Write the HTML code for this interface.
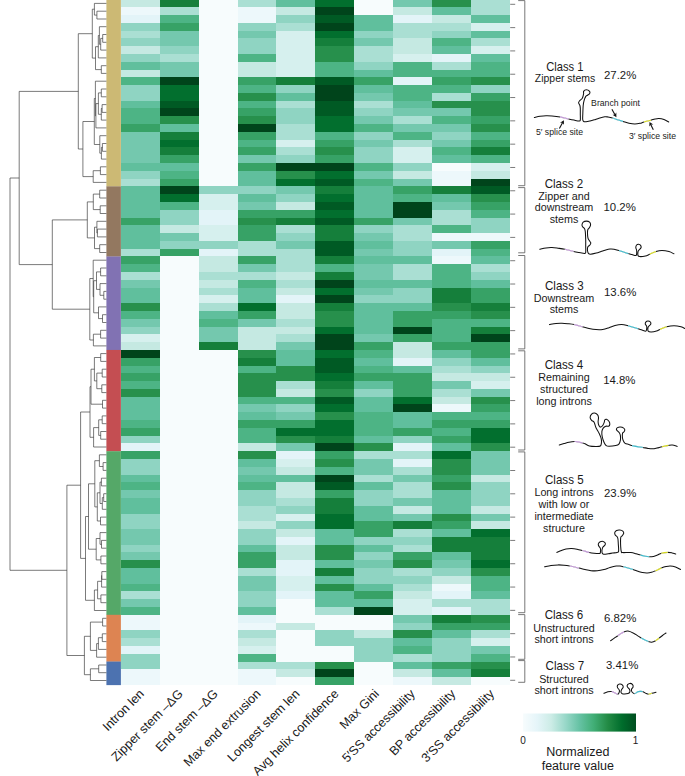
<!DOCTYPE html><html><head><meta charset="utf-8"><style>html,body{margin:0;padding:0;background:#fff}svg{display:block}text{font-family:"Liberation Sans",sans-serif;fill:#1a1a1a}</style></head><body>
<svg width="685" height="776" viewBox="0 0 685 776">
<rect width="685" height="776" fill="#fff"/>
<defs><linearGradient id="g" x1="0" x2="1" y1="0" y2="0"><stop offset="0" stop-color="#f7fcfd"/><stop offset="0.125" stop-color="#e5f5f9"/><stop offset="0.25" stop-color="#ccece6"/><stop offset="0.375" stop-color="#99d8c9"/><stop offset="0.5" stop-color="#66c2a4"/><stop offset="0.625" stop-color="#41ae76"/><stop offset="0.75" stop-color="#238b45"/><stop offset="0.875" stop-color="#006d2c"/><stop offset="1" stop-color="#004e20"/></linearGradient></defs>
<g shape-rendering="crispEdges">
<rect x="120.80" y="-0.60" width="39.22" height="8.09" fill="#c5e9e2"/>
<rect x="120.80" y="7.19" width="39.22" height="8.09" fill="#edf8fb"/>
<rect x="120.80" y="14.98" width="39.22" height="8.09" fill="#e3f4f8"/>
<rect x="120.80" y="22.77" width="39.22" height="8.09" fill="#8fd4c2"/>
<rect x="120.80" y="30.56" width="39.22" height="8.09" fill="#aadfd3"/>
<rect x="120.80" y="38.35" width="39.22" height="8.09" fill="#8fd4c2"/>
<rect x="120.80" y="46.14" width="39.22" height="8.09" fill="#c5e9e2"/>
<rect x="120.80" y="53.93" width="39.22" height="8.09" fill="#8fd4c2"/>
<rect x="120.80" y="61.72" width="39.22" height="8.09" fill="#60bf9d"/>
<rect x="120.80" y="69.51" width="39.22" height="8.09" fill="#c5e9e2"/>
<rect x="120.80" y="77.30" width="39.22" height="8.09" fill="#4db485"/>
<rect x="120.80" y="85.09" width="39.22" height="15.88" fill="#8fd4c2"/>
<rect x="120.80" y="100.67" width="39.22" height="8.09" fill="#60bf9d"/>
<rect x="120.80" y="108.46" width="39.22" height="15.88" fill="#4db485"/>
<rect x="120.80" y="124.04" width="39.22" height="8.09" fill="#37a266"/>
<rect x="120.80" y="131.83" width="39.22" height="31.46" fill="#74c8ae"/>
<rect x="120.80" y="162.99" width="39.22" height="8.09" fill="#60bf9d"/>
<rect x="120.80" y="170.78" width="39.22" height="8.09" fill="#8fd4c2"/>
<rect x="120.80" y="178.57" width="39.22" height="8.09" fill="#aadfd3"/>
<rect x="120.80" y="186.36" width="39.22" height="31.46" fill="#60bf9d"/>
<rect x="120.80" y="217.52" width="39.22" height="8.09" fill="#37a266"/>
<rect x="120.80" y="225.31" width="39.22" height="23.67" fill="#60bf9d"/>
<rect x="120.80" y="248.68" width="39.22" height="8.09" fill="#aadfd3"/>
<rect x="120.80" y="256.47" width="39.22" height="8.09" fill="#37a266"/>
<rect x="120.80" y="264.26" width="39.22" height="8.09" fill="#4db485"/>
<rect x="120.80" y="272.05" width="39.22" height="8.09" fill="#aadfd3"/>
<rect x="120.80" y="279.84" width="39.22" height="8.09" fill="#74c8ae"/>
<rect x="120.80" y="287.63" width="39.22" height="15.88" fill="#60bf9d"/>
<rect x="120.80" y="303.21" width="39.22" height="8.09" fill="#27904c"/>
<rect x="120.80" y="311.00" width="39.22" height="8.09" fill="#4db485"/>
<rect x="120.80" y="318.79" width="39.22" height="8.09" fill="#74c8ae"/>
<rect x="120.80" y="326.58" width="39.22" height="8.09" fill="#8fd4c2"/>
<rect x="120.80" y="334.37" width="39.22" height="8.09" fill="#d6f0ee"/>
<rect x="120.80" y="342.16" width="39.22" height="8.09" fill="#c5e9e2"/>
<rect x="120.80" y="349.95" width="39.22" height="8.09" fill="#00441b"/>
<rect x="120.80" y="357.74" width="39.22" height="8.09" fill="#37a266"/>
<rect x="120.80" y="365.53" width="39.22" height="8.09" fill="#4db485"/>
<rect x="120.80" y="373.32" width="39.22" height="8.09" fill="#37a266"/>
<rect x="120.80" y="381.11" width="39.22" height="8.09" fill="#4db485"/>
<rect x="120.80" y="388.90" width="39.22" height="8.09" fill="#27904c"/>
<rect x="120.80" y="396.69" width="39.22" height="23.67" fill="#60bf9d"/>
<rect x="120.80" y="420.06" width="39.22" height="8.09" fill="#4db485"/>
<rect x="120.80" y="427.85" width="39.22" height="8.09" fill="#37a266"/>
<rect x="120.80" y="435.64" width="39.22" height="8.09" fill="#8fd4c2"/>
<rect x="120.80" y="443.43" width="39.22" height="8.09" fill="#e3f4f8"/>
<rect x="120.80" y="451.22" width="39.22" height="8.09" fill="#37a266"/>
<rect x="120.80" y="459.01" width="39.22" height="15.88" fill="#8fd4c2"/>
<rect x="120.80" y="474.59" width="39.22" height="8.09" fill="#60bf9d"/>
<rect x="120.80" y="482.38" width="39.22" height="8.09" fill="#4db485"/>
<rect x="120.80" y="490.17" width="39.22" height="8.09" fill="#74c8ae"/>
<rect x="120.80" y="497.96" width="39.22" height="15.88" fill="#60bf9d"/>
<rect x="120.80" y="513.54" width="39.22" height="15.88" fill="#8fd4c2"/>
<rect x="120.80" y="529.12" width="39.22" height="15.88" fill="#74c8ae"/>
<rect x="120.80" y="544.70" width="39.22" height="8.09" fill="#8fd4c2"/>
<rect x="120.80" y="552.49" width="39.22" height="8.09" fill="#74c8ae"/>
<rect x="120.80" y="560.28" width="39.22" height="8.09" fill="#27904c"/>
<rect x="120.80" y="568.07" width="39.22" height="15.88" fill="#60bf9d"/>
<rect x="120.80" y="583.65" width="39.22" height="8.09" fill="#4db485"/>
<rect x="120.80" y="591.44" width="39.22" height="8.09" fill="#aadfd3"/>
<rect x="120.80" y="599.23" width="39.22" height="8.09" fill="#74c8ae"/>
<rect x="120.80" y="607.02" width="39.22" height="8.09" fill="#4db485"/>
<rect x="120.80" y="614.81" width="39.22" height="15.88" fill="#edf8fb"/>
<rect x="120.80" y="630.39" width="39.22" height="8.09" fill="#8fd4c2"/>
<rect x="120.80" y="638.18" width="39.22" height="8.09" fill="#aadfd3"/>
<rect x="120.80" y="645.97" width="39.22" height="8.09" fill="#e3f4f8"/>
<rect x="120.80" y="653.76" width="39.22" height="15.88" fill="#8fd4c2"/>
<rect x="120.80" y="669.34" width="39.22" height="15.88" fill="#edf8fb"/>
<rect x="159.72" y="-0.60" width="39.22" height="8.09" fill="#157f3b"/>
<rect x="159.72" y="7.19" width="39.22" height="8.09" fill="#aadfd3"/>
<rect x="159.72" y="14.98" width="39.22" height="8.09" fill="#4db485"/>
<rect x="159.72" y="22.77" width="39.22" height="8.09" fill="#37a266"/>
<rect x="159.72" y="30.56" width="39.22" height="15.88" fill="#74c8ae"/>
<rect x="159.72" y="46.14" width="39.22" height="8.09" fill="#8fd4c2"/>
<rect x="159.72" y="53.93" width="39.22" height="8.09" fill="#aadfd3"/>
<rect x="159.72" y="61.72" width="39.22" height="15.88" fill="#74c8ae"/>
<rect x="159.72" y="77.30" width="39.22" height="8.09" fill="#00441b"/>
<rect x="159.72" y="85.09" width="39.22" height="15.88" fill="#026f2e"/>
<rect x="159.72" y="100.67" width="39.22" height="8.09" fill="#005a24"/>
<rect x="159.72" y="108.46" width="39.22" height="8.09" fill="#00441b"/>
<rect x="159.72" y="116.25" width="39.22" height="8.09" fill="#27904c"/>
<rect x="159.72" y="124.04" width="39.22" height="8.09" fill="#60bf9d"/>
<rect x="159.72" y="131.83" width="39.22" height="8.09" fill="#157f3b"/>
<rect x="159.72" y="139.62" width="39.22" height="8.09" fill="#026f2e"/>
<rect x="159.72" y="147.41" width="39.22" height="8.09" fill="#157f3b"/>
<rect x="159.72" y="155.20" width="39.22" height="8.09" fill="#37a266"/>
<rect x="159.72" y="162.99" width="39.22" height="8.09" fill="#60bf9d"/>
<rect x="159.72" y="170.78" width="39.22" height="8.09" fill="#4db485"/>
<rect x="159.72" y="178.57" width="39.22" height="8.09" fill="#37a266"/>
<rect x="159.72" y="186.36" width="39.22" height="8.09" fill="#00441b"/>
<rect x="159.72" y="194.15" width="39.22" height="8.09" fill="#026f2e"/>
<rect x="159.72" y="201.94" width="39.22" height="8.09" fill="#4db485"/>
<rect x="159.72" y="209.73" width="39.22" height="15.88" fill="#8fd4c2"/>
<rect x="159.72" y="225.31" width="39.22" height="8.09" fill="#c5e9e2"/>
<rect x="159.72" y="233.10" width="39.22" height="8.09" fill="#74c8ae"/>
<rect x="159.72" y="240.89" width="39.22" height="8.09" fill="#8fd4c2"/>
<rect x="159.72" y="248.68" width="39.22" height="8.09" fill="#37a266"/>
<rect x="159.72" y="256.47" width="39.22" height="428.75" fill="#f7fcfd"/>
<rect x="198.64" y="-0.60" width="39.22" height="187.26" fill="#f7fcfd"/>
<rect x="198.64" y="186.36" width="39.22" height="8.09" fill="#8fd4c2"/>
<rect x="198.64" y="194.15" width="39.22" height="15.88" fill="#d6f0ee"/>
<rect x="198.64" y="209.73" width="39.22" height="15.88" fill="#e3f4f8"/>
<rect x="198.64" y="225.31" width="39.22" height="15.88" fill="#d6f0ee"/>
<rect x="198.64" y="240.89" width="39.22" height="8.09" fill="#8fd4c2"/>
<rect x="198.64" y="248.68" width="39.22" height="8.09" fill="#e3f4f8"/>
<rect x="198.64" y="256.47" width="39.22" height="15.88" fill="#c5e9e2"/>
<rect x="198.64" y="272.05" width="39.22" height="8.09" fill="#aadfd3"/>
<rect x="198.64" y="279.84" width="39.22" height="8.09" fill="#c5e9e2"/>
<rect x="198.64" y="287.63" width="39.22" height="8.09" fill="#aadfd3"/>
<rect x="198.64" y="295.42" width="39.22" height="8.09" fill="#d6f0ee"/>
<rect x="198.64" y="303.21" width="39.22" height="8.09" fill="#aadfd3"/>
<rect x="198.64" y="311.00" width="39.22" height="8.09" fill="#60bf9d"/>
<rect x="198.64" y="318.79" width="39.22" height="8.09" fill="#4db485"/>
<rect x="198.64" y="326.58" width="39.22" height="15.88" fill="#74c8ae"/>
<rect x="198.64" y="342.16" width="39.22" height="8.09" fill="#157f3b"/>
<rect x="198.64" y="349.95" width="39.22" height="335.27" fill="#f7fcfd"/>
<rect x="237.56" y="-0.60" width="39.22" height="8.09" fill="#aadfd3"/>
<rect x="237.56" y="7.19" width="39.22" height="15.88" fill="#edf8fb"/>
<rect x="237.56" y="22.77" width="39.22" height="8.09" fill="#8fd4c2"/>
<rect x="237.56" y="30.56" width="39.22" height="8.09" fill="#74c8ae"/>
<rect x="237.56" y="38.35" width="39.22" height="15.88" fill="#8fd4c2"/>
<rect x="237.56" y="53.93" width="39.22" height="8.09" fill="#4db485"/>
<rect x="237.56" y="61.72" width="39.22" height="15.88" fill="#c5e9e2"/>
<rect x="237.56" y="77.30" width="39.22" height="8.09" fill="#37a266"/>
<rect x="237.56" y="85.09" width="39.22" height="8.09" fill="#4db485"/>
<rect x="237.56" y="92.88" width="39.22" height="8.09" fill="#27904c"/>
<rect x="237.56" y="100.67" width="39.22" height="8.09" fill="#4db485"/>
<rect x="237.56" y="108.46" width="39.22" height="8.09" fill="#37a266"/>
<rect x="237.56" y="116.25" width="39.22" height="8.09" fill="#27904c"/>
<rect x="237.56" y="124.04" width="39.22" height="8.09" fill="#00441b"/>
<rect x="237.56" y="131.83" width="39.22" height="8.09" fill="#37a266"/>
<rect x="237.56" y="139.62" width="39.22" height="8.09" fill="#4db485"/>
<rect x="237.56" y="147.41" width="39.22" height="8.09" fill="#37a266"/>
<rect x="237.56" y="155.20" width="39.22" height="8.09" fill="#74c8ae"/>
<rect x="237.56" y="162.99" width="39.22" height="8.09" fill="#37a266"/>
<rect x="237.56" y="170.78" width="39.22" height="15.88" fill="#60bf9d"/>
<rect x="237.56" y="186.36" width="39.22" height="8.09" fill="#8fd4c2"/>
<rect x="237.56" y="194.15" width="39.22" height="8.09" fill="#60bf9d"/>
<rect x="237.56" y="201.94" width="39.22" height="8.09" fill="#74c8ae"/>
<rect x="237.56" y="209.73" width="39.22" height="8.09" fill="#37a266"/>
<rect x="237.56" y="217.52" width="39.22" height="8.09" fill="#27904c"/>
<rect x="237.56" y="225.31" width="39.22" height="15.88" fill="#37a266"/>
<rect x="237.56" y="240.89" width="39.22" height="15.88" fill="#aadfd3"/>
<rect x="237.56" y="256.47" width="39.22" height="8.09" fill="#37a266"/>
<rect x="237.56" y="264.26" width="39.22" height="8.09" fill="#74c8ae"/>
<rect x="237.56" y="272.05" width="39.22" height="8.09" fill="#aadfd3"/>
<rect x="237.56" y="279.84" width="39.22" height="8.09" fill="#4db485"/>
<rect x="237.56" y="287.63" width="39.22" height="15.88" fill="#60bf9d"/>
<rect x="237.56" y="303.21" width="39.22" height="8.09" fill="#026f2e"/>
<rect x="237.56" y="311.00" width="39.22" height="8.09" fill="#37a266"/>
<rect x="237.56" y="318.79" width="39.22" height="8.09" fill="#74c8ae"/>
<rect x="237.56" y="326.58" width="39.22" height="23.67" fill="#c5e9e2"/>
<rect x="237.56" y="349.95" width="39.22" height="8.09" fill="#27904c"/>
<rect x="237.56" y="357.74" width="39.22" height="8.09" fill="#157f3b"/>
<rect x="237.56" y="365.53" width="39.22" height="8.09" fill="#4db485"/>
<rect x="237.56" y="373.32" width="39.22" height="23.67" fill="#27904c"/>
<rect x="237.56" y="396.69" width="39.22" height="8.09" fill="#4db485"/>
<rect x="237.56" y="404.48" width="39.22" height="8.09" fill="#74c8ae"/>
<rect x="237.56" y="412.27" width="39.22" height="8.09" fill="#60bf9d"/>
<rect x="237.56" y="420.06" width="39.22" height="8.09" fill="#37a266"/>
<rect x="237.56" y="427.85" width="39.22" height="15.88" fill="#4db485"/>
<rect x="237.56" y="443.43" width="39.22" height="8.09" fill="#c5e9e2"/>
<rect x="237.56" y="451.22" width="39.22" height="8.09" fill="#27904c"/>
<rect x="237.56" y="459.01" width="39.22" height="8.09" fill="#60bf9d"/>
<rect x="237.56" y="466.80" width="39.22" height="8.09" fill="#74c8ae"/>
<rect x="237.56" y="474.59" width="39.22" height="8.09" fill="#60bf9d"/>
<rect x="237.56" y="482.38" width="39.22" height="8.09" fill="#4db485"/>
<rect x="237.56" y="490.17" width="39.22" height="15.88" fill="#8fd4c2"/>
<rect x="237.56" y="505.75" width="39.22" height="15.88" fill="#aadfd3"/>
<rect x="237.56" y="521.33" width="39.22" height="8.09" fill="#c5e9e2"/>
<rect x="237.56" y="529.12" width="39.22" height="15.88" fill="#8fd4c2"/>
<rect x="237.56" y="544.70" width="39.22" height="8.09" fill="#60bf9d"/>
<rect x="237.56" y="552.49" width="39.22" height="15.88" fill="#37a266"/>
<rect x="237.56" y="568.07" width="39.22" height="8.09" fill="#aadfd3"/>
<rect x="237.56" y="575.86" width="39.22" height="15.88" fill="#74c8ae"/>
<rect x="237.56" y="591.44" width="39.22" height="15.88" fill="#8fd4c2"/>
<rect x="237.56" y="607.02" width="39.22" height="8.09" fill="#60bf9d"/>
<rect x="237.56" y="614.81" width="39.22" height="8.09" fill="#e3f4f8"/>
<rect x="237.56" y="622.60" width="39.22" height="8.09" fill="#edf8fb"/>
<rect x="237.56" y="630.39" width="39.22" height="8.09" fill="#aadfd3"/>
<rect x="237.56" y="638.18" width="39.22" height="8.09" fill="#c5e9e2"/>
<rect x="237.56" y="645.97" width="39.22" height="8.09" fill="#d6f0ee"/>
<rect x="237.56" y="653.76" width="39.22" height="8.09" fill="#4db485"/>
<rect x="237.56" y="661.55" width="39.22" height="8.09" fill="#aadfd3"/>
<rect x="237.56" y="669.34" width="39.22" height="15.88" fill="#edf8fb"/>
<rect x="276.48" y="-0.60" width="39.22" height="8.09" fill="#60bf9d"/>
<rect x="276.48" y="7.19" width="39.22" height="8.09" fill="#c5e9e2"/>
<rect x="276.48" y="14.98" width="39.22" height="8.09" fill="#8fd4c2"/>
<rect x="276.48" y="22.77" width="39.22" height="8.09" fill="#aadfd3"/>
<rect x="276.48" y="30.56" width="39.22" height="47.04" fill="#d6f0ee"/>
<rect x="276.48" y="77.30" width="39.22" height="8.09" fill="#157f3b"/>
<rect x="276.48" y="85.09" width="39.22" height="8.09" fill="#8fd4c2"/>
<rect x="276.48" y="92.88" width="39.22" height="8.09" fill="#60bf9d"/>
<rect x="276.48" y="100.67" width="39.22" height="8.09" fill="#aadfd3"/>
<rect x="276.48" y="108.46" width="39.22" height="15.88" fill="#8fd4c2"/>
<rect x="276.48" y="124.04" width="39.22" height="15.88" fill="#aadfd3"/>
<rect x="276.48" y="139.62" width="39.22" height="8.09" fill="#d6f0ee"/>
<rect x="276.48" y="147.41" width="39.22" height="8.09" fill="#aadfd3"/>
<rect x="276.48" y="155.20" width="39.22" height="8.09" fill="#8fd4c2"/>
<rect x="276.48" y="162.99" width="39.22" height="8.09" fill="#00441b"/>
<rect x="276.48" y="170.78" width="39.22" height="8.09" fill="#27904c"/>
<rect x="276.48" y="178.57" width="39.22" height="8.09" fill="#026f2e"/>
<rect x="276.48" y="186.36" width="39.22" height="8.09" fill="#74c8ae"/>
<rect x="276.48" y="194.15" width="39.22" height="8.09" fill="#8fd4c2"/>
<rect x="276.48" y="201.94" width="39.22" height="8.09" fill="#c5e9e2"/>
<rect x="276.48" y="209.73" width="39.22" height="8.09" fill="#37a266"/>
<rect x="276.48" y="217.52" width="39.22" height="8.09" fill="#157f3b"/>
<rect x="276.48" y="225.31" width="39.22" height="8.09" fill="#aadfd3"/>
<rect x="276.48" y="233.10" width="39.22" height="8.09" fill="#8fd4c2"/>
<rect x="276.48" y="240.89" width="39.22" height="8.09" fill="#74c8ae"/>
<rect x="276.48" y="248.68" width="39.22" height="23.67" fill="#aadfd3"/>
<rect x="276.48" y="272.05" width="39.22" height="8.09" fill="#c5e9e2"/>
<rect x="276.48" y="279.84" width="39.22" height="8.09" fill="#aadfd3"/>
<rect x="276.48" y="287.63" width="39.22" height="8.09" fill="#c5e9e2"/>
<rect x="276.48" y="295.42" width="39.22" height="8.09" fill="#e3f4f8"/>
<rect x="276.48" y="303.21" width="39.22" height="15.88" fill="#c5e9e2"/>
<rect x="276.48" y="318.79" width="39.22" height="8.09" fill="#aadfd3"/>
<rect x="276.48" y="326.58" width="39.22" height="8.09" fill="#c5e9e2"/>
<rect x="276.48" y="334.37" width="39.22" height="8.09" fill="#aadfd3"/>
<rect x="276.48" y="342.16" width="39.22" height="8.09" fill="#74c8ae"/>
<rect x="276.48" y="349.95" width="39.22" height="15.88" fill="#60bf9d"/>
<rect x="276.48" y="365.53" width="39.22" height="15.88" fill="#27904c"/>
<rect x="276.48" y="381.11" width="39.22" height="8.09" fill="#aadfd3"/>
<rect x="276.48" y="388.90" width="39.22" height="8.09" fill="#c5e9e2"/>
<rect x="276.48" y="396.69" width="39.22" height="8.09" fill="#4db485"/>
<rect x="276.48" y="404.48" width="39.22" height="8.09" fill="#8fd4c2"/>
<rect x="276.48" y="412.27" width="39.22" height="8.09" fill="#74c8ae"/>
<rect x="276.48" y="420.06" width="39.22" height="8.09" fill="#37a266"/>
<rect x="276.48" y="427.85" width="39.22" height="8.09" fill="#026f2e"/>
<rect x="276.48" y="435.64" width="39.22" height="8.09" fill="#27904c"/>
<rect x="276.48" y="443.43" width="39.22" height="8.09" fill="#74c8ae"/>
<rect x="276.48" y="451.22" width="39.22" height="8.09" fill="#e3f4f8"/>
<rect x="276.48" y="459.01" width="39.22" height="8.09" fill="#d6f0ee"/>
<rect x="276.48" y="466.80" width="39.22" height="8.09" fill="#c5e9e2"/>
<rect x="276.48" y="474.59" width="39.22" height="8.09" fill="#60bf9d"/>
<rect x="276.48" y="482.38" width="39.22" height="15.88" fill="#c5e9e2"/>
<rect x="276.48" y="497.96" width="39.22" height="8.09" fill="#aadfd3"/>
<rect x="276.48" y="505.75" width="39.22" height="8.09" fill="#8fd4c2"/>
<rect x="276.48" y="513.54" width="39.22" height="8.09" fill="#d6f0ee"/>
<rect x="276.48" y="521.33" width="39.22" height="8.09" fill="#8fd4c2"/>
<rect x="276.48" y="529.12" width="39.22" height="8.09" fill="#c5e9e2"/>
<rect x="276.48" y="536.91" width="39.22" height="8.09" fill="#e3f4f8"/>
<rect x="276.48" y="544.70" width="39.22" height="15.88" fill="#c5e9e2"/>
<rect x="276.48" y="560.28" width="39.22" height="15.88" fill="#e3f4f8"/>
<rect x="276.48" y="575.86" width="39.22" height="15.88" fill="#d6f0ee"/>
<rect x="276.48" y="591.44" width="39.22" height="8.09" fill="#e3f4f8"/>
<rect x="276.48" y="599.23" width="39.22" height="23.67" fill="#f7fcfd"/>
<rect x="276.48" y="622.60" width="39.22" height="8.09" fill="#c5e9e2"/>
<rect x="276.48" y="630.39" width="39.22" height="31.46" fill="#f7fcfd"/>
<rect x="276.48" y="661.55" width="39.22" height="8.09" fill="#aadfd3"/>
<rect x="276.48" y="669.34" width="39.22" height="8.09" fill="#c5e9e2"/>
<rect x="276.48" y="677.13" width="39.22" height="8.09" fill="#f7fcfd"/>
<rect x="315.40" y="-0.60" width="39.22" height="8.09" fill="#026f2e"/>
<rect x="315.40" y="7.19" width="39.22" height="8.09" fill="#00441b"/>
<rect x="315.40" y="14.98" width="39.22" height="8.09" fill="#005a24"/>
<rect x="315.40" y="22.77" width="39.22" height="8.09" fill="#00441b"/>
<rect x="315.40" y="30.56" width="39.22" height="8.09" fill="#026f2e"/>
<rect x="315.40" y="38.35" width="39.22" height="8.09" fill="#157f3b"/>
<rect x="315.40" y="46.14" width="39.22" height="15.88" fill="#27904c"/>
<rect x="315.40" y="61.72" width="39.22" height="15.88" fill="#4db485"/>
<rect x="315.40" y="77.30" width="39.22" height="8.09" fill="#005a24"/>
<rect x="315.40" y="85.09" width="39.22" height="15.88" fill="#00441b"/>
<rect x="315.40" y="100.67" width="39.22" height="15.88" fill="#005a24"/>
<rect x="315.40" y="116.25" width="39.22" height="15.88" fill="#026f2e"/>
<rect x="315.40" y="131.83" width="39.22" height="8.09" fill="#4db485"/>
<rect x="315.40" y="139.62" width="39.22" height="8.09" fill="#37a266"/>
<rect x="315.40" y="147.41" width="39.22" height="8.09" fill="#27904c"/>
<rect x="315.40" y="155.20" width="39.22" height="8.09" fill="#37a266"/>
<rect x="315.40" y="162.99" width="39.22" height="8.09" fill="#00441b"/>
<rect x="315.40" y="170.78" width="39.22" height="8.09" fill="#026f2e"/>
<rect x="315.40" y="178.57" width="39.22" height="8.09" fill="#005a24"/>
<rect x="315.40" y="186.36" width="39.22" height="8.09" fill="#157f3b"/>
<rect x="315.40" y="194.15" width="39.22" height="8.09" fill="#026f2e"/>
<rect x="315.40" y="201.94" width="39.22" height="8.09" fill="#005a24"/>
<rect x="315.40" y="209.73" width="39.22" height="8.09" fill="#026f2e"/>
<rect x="315.40" y="217.52" width="39.22" height="8.09" fill="#005a24"/>
<rect x="315.40" y="225.31" width="39.22" height="15.88" fill="#157f3b"/>
<rect x="315.40" y="240.89" width="39.22" height="15.88" fill="#005a24"/>
<rect x="315.40" y="256.47" width="39.22" height="8.09" fill="#157f3b"/>
<rect x="315.40" y="264.26" width="39.22" height="8.09" fill="#4db485"/>
<rect x="315.40" y="272.05" width="39.22" height="8.09" fill="#157f3b"/>
<rect x="315.40" y="279.84" width="39.22" height="8.09" fill="#00441b"/>
<rect x="315.40" y="287.63" width="39.22" height="8.09" fill="#026f2e"/>
<rect x="315.40" y="295.42" width="39.22" height="8.09" fill="#00441b"/>
<rect x="315.40" y="303.21" width="39.22" height="8.09" fill="#157f3b"/>
<rect x="315.40" y="311.00" width="39.22" height="15.88" fill="#27904c"/>
<rect x="315.40" y="326.58" width="39.22" height="8.09" fill="#026f2e"/>
<rect x="315.40" y="334.37" width="39.22" height="15.88" fill="#00441b"/>
<rect x="315.40" y="349.95" width="39.22" height="8.09" fill="#026f2e"/>
<rect x="315.40" y="357.74" width="39.22" height="15.88" fill="#005a24"/>
<rect x="315.40" y="373.32" width="39.22" height="8.09" fill="#026f2e"/>
<rect x="315.40" y="381.11" width="39.22" height="8.09" fill="#157f3b"/>
<rect x="315.40" y="388.90" width="39.22" height="8.09" fill="#27904c"/>
<rect x="315.40" y="396.69" width="39.22" height="8.09" fill="#005a24"/>
<rect x="315.40" y="404.48" width="39.22" height="8.09" fill="#026f2e"/>
<rect x="315.40" y="412.27" width="39.22" height="8.09" fill="#27904c"/>
<rect x="315.40" y="420.06" width="39.22" height="15.88" fill="#026f2e"/>
<rect x="315.40" y="435.64" width="39.22" height="8.09" fill="#157f3b"/>
<rect x="315.40" y="443.43" width="39.22" height="8.09" fill="#00441b"/>
<rect x="315.40" y="451.22" width="39.22" height="8.09" fill="#37a266"/>
<rect x="315.40" y="459.01" width="39.22" height="8.09" fill="#27904c"/>
<rect x="315.40" y="466.80" width="39.22" height="8.09" fill="#4db485"/>
<rect x="315.40" y="474.59" width="39.22" height="8.09" fill="#00441b"/>
<rect x="315.40" y="482.38" width="39.22" height="8.09" fill="#005a24"/>
<rect x="315.40" y="490.17" width="39.22" height="8.09" fill="#37a266"/>
<rect x="315.40" y="497.96" width="39.22" height="15.88" fill="#157f3b"/>
<rect x="315.40" y="513.54" width="39.22" height="15.88" fill="#026f2e"/>
<rect x="315.40" y="529.12" width="39.22" height="15.88" fill="#60bf9d"/>
<rect x="315.40" y="544.70" width="39.22" height="15.88" fill="#27904c"/>
<rect x="315.40" y="560.28" width="39.22" height="8.09" fill="#60bf9d"/>
<rect x="315.40" y="568.07" width="39.22" height="8.09" fill="#157f3b"/>
<rect x="315.40" y="575.86" width="39.22" height="8.09" fill="#60bf9d"/>
<rect x="315.40" y="583.65" width="39.22" height="8.09" fill="#27904c"/>
<rect x="315.40" y="591.44" width="39.22" height="15.88" fill="#60bf9d"/>
<rect x="315.40" y="607.02" width="39.22" height="8.09" fill="#aadfd3"/>
<rect x="315.40" y="614.81" width="39.22" height="15.88" fill="#f7fcfd"/>
<rect x="315.40" y="630.39" width="39.22" height="15.88" fill="#8fd4c2"/>
<rect x="315.40" y="645.97" width="39.22" height="15.88" fill="#f7fcfd"/>
<rect x="315.40" y="661.55" width="39.22" height="8.09" fill="#27904c"/>
<rect x="315.40" y="669.34" width="39.22" height="8.09" fill="#00441b"/>
<rect x="315.40" y="677.13" width="39.22" height="8.09" fill="#37a266"/>
<rect x="354.32" y="-0.60" width="39.22" height="15.88" fill="#f7fcfd"/>
<rect x="354.32" y="14.98" width="39.22" height="15.88" fill="#60bf9d"/>
<rect x="354.32" y="30.56" width="39.22" height="8.09" fill="#8fd4c2"/>
<rect x="354.32" y="38.35" width="39.22" height="8.09" fill="#74c8ae"/>
<rect x="354.32" y="46.14" width="39.22" height="15.88" fill="#aadfd3"/>
<rect x="354.32" y="61.72" width="39.22" height="8.09" fill="#8fd4c2"/>
<rect x="354.32" y="69.51" width="39.22" height="8.09" fill="#60bf9d"/>
<rect x="354.32" y="77.30" width="39.22" height="8.09" fill="#37a266"/>
<rect x="354.32" y="85.09" width="39.22" height="8.09" fill="#60bf9d"/>
<rect x="354.32" y="92.88" width="39.22" height="8.09" fill="#74c8ae"/>
<rect x="354.32" y="100.67" width="39.22" height="8.09" fill="#aadfd3"/>
<rect x="354.32" y="108.46" width="39.22" height="8.09" fill="#8fd4c2"/>
<rect x="354.32" y="116.25" width="39.22" height="8.09" fill="#74c8ae"/>
<rect x="354.32" y="124.04" width="39.22" height="8.09" fill="#4db485"/>
<rect x="354.32" y="131.83" width="39.22" height="8.09" fill="#8fd4c2"/>
<rect x="354.32" y="139.62" width="39.22" height="8.09" fill="#74c8ae"/>
<rect x="354.32" y="147.41" width="39.22" height="15.88" fill="#8fd4c2"/>
<rect x="354.32" y="162.99" width="39.22" height="8.09" fill="#4db485"/>
<rect x="354.32" y="170.78" width="39.22" height="8.09" fill="#74c8ae"/>
<rect x="354.32" y="178.57" width="39.22" height="8.09" fill="#4db485"/>
<rect x="354.32" y="186.36" width="39.22" height="31.46" fill="#60bf9d"/>
<rect x="354.32" y="217.52" width="39.22" height="8.09" fill="#37a266"/>
<rect x="354.32" y="225.31" width="39.22" height="8.09" fill="#8fd4c2"/>
<rect x="354.32" y="233.10" width="39.22" height="8.09" fill="#74c8ae"/>
<rect x="354.32" y="240.89" width="39.22" height="8.09" fill="#60bf9d"/>
<rect x="354.32" y="248.68" width="39.22" height="8.09" fill="#74c8ae"/>
<rect x="354.32" y="256.47" width="39.22" height="8.09" fill="#60bf9d"/>
<rect x="354.32" y="264.26" width="39.22" height="15.88" fill="#74c8ae"/>
<rect x="354.32" y="279.84" width="39.22" height="8.09" fill="#60bf9d"/>
<rect x="354.32" y="287.63" width="39.22" height="8.09" fill="#74c8ae"/>
<rect x="354.32" y="295.42" width="39.22" height="8.09" fill="#8fd4c2"/>
<rect x="354.32" y="303.21" width="39.22" height="31.46" fill="#60bf9d"/>
<rect x="354.32" y="334.37" width="39.22" height="8.09" fill="#74c8ae"/>
<rect x="354.32" y="342.16" width="39.22" height="8.09" fill="#37a266"/>
<rect x="354.32" y="349.95" width="39.22" height="8.09" fill="#4db485"/>
<rect x="354.32" y="357.74" width="39.22" height="8.09" fill="#60bf9d"/>
<rect x="354.32" y="365.53" width="39.22" height="8.09" fill="#4db485"/>
<rect x="354.32" y="373.32" width="39.22" height="8.09" fill="#37a266"/>
<rect x="354.32" y="381.11" width="39.22" height="8.09" fill="#60bf9d"/>
<rect x="354.32" y="388.90" width="39.22" height="8.09" fill="#8fd4c2"/>
<rect x="354.32" y="396.69" width="39.22" height="15.88" fill="#60bf9d"/>
<rect x="354.32" y="412.27" width="39.22" height="23.67" fill="#4db485"/>
<rect x="354.32" y="435.64" width="39.22" height="8.09" fill="#60bf9d"/>
<rect x="354.32" y="443.43" width="39.22" height="8.09" fill="#27904c"/>
<rect x="354.32" y="451.22" width="39.22" height="8.09" fill="#aadfd3"/>
<rect x="354.32" y="459.01" width="39.22" height="15.88" fill="#74c8ae"/>
<rect x="354.32" y="474.59" width="39.22" height="8.09" fill="#aadfd3"/>
<rect x="354.32" y="482.38" width="39.22" height="8.09" fill="#60bf9d"/>
<rect x="354.32" y="490.17" width="39.22" height="15.88" fill="#8fd4c2"/>
<rect x="354.32" y="505.75" width="39.22" height="15.88" fill="#60bf9d"/>
<rect x="354.32" y="521.33" width="39.22" height="15.88" fill="#37a266"/>
<rect x="354.32" y="536.91" width="39.22" height="8.09" fill="#8fd4c2"/>
<rect x="354.32" y="544.70" width="39.22" height="8.09" fill="#60bf9d"/>
<rect x="354.32" y="552.49" width="39.22" height="8.09" fill="#8fd4c2"/>
<rect x="354.32" y="560.28" width="39.22" height="8.09" fill="#74c8ae"/>
<rect x="354.32" y="568.07" width="39.22" height="15.88" fill="#8fd4c2"/>
<rect x="354.32" y="583.65" width="39.22" height="8.09" fill="#60bf9d"/>
<rect x="354.32" y="591.44" width="39.22" height="8.09" fill="#37a266"/>
<rect x="354.32" y="599.23" width="39.22" height="8.09" fill="#60bf9d"/>
<rect x="354.32" y="607.02" width="39.22" height="8.09" fill="#00441b"/>
<rect x="354.32" y="614.81" width="39.22" height="15.88" fill="#f7fcfd"/>
<rect x="354.32" y="630.39" width="39.22" height="8.09" fill="#c5e9e2"/>
<rect x="354.32" y="638.18" width="39.22" height="23.67" fill="#8fd4c2"/>
<rect x="354.32" y="661.55" width="39.22" height="23.67" fill="#f7fcfd"/>
<rect x="393.24" y="-0.60" width="39.22" height="8.09" fill="#74c8ae"/>
<rect x="393.24" y="7.19" width="39.22" height="8.09" fill="#c5e9e2"/>
<rect x="393.24" y="14.98" width="39.22" height="8.09" fill="#e3f4f8"/>
<rect x="393.24" y="22.77" width="39.22" height="15.88" fill="#aadfd3"/>
<rect x="393.24" y="38.35" width="39.22" height="15.88" fill="#c5e9e2"/>
<rect x="393.24" y="53.93" width="39.22" height="8.09" fill="#d6f0ee"/>
<rect x="393.24" y="61.72" width="39.22" height="15.88" fill="#4db485"/>
<rect x="393.24" y="77.30" width="39.22" height="8.09" fill="#e3f4f8"/>
<rect x="393.24" y="85.09" width="39.22" height="15.88" fill="#4db485"/>
<rect x="393.24" y="100.67" width="39.22" height="8.09" fill="#60bf9d"/>
<rect x="393.24" y="108.46" width="39.22" height="8.09" fill="#74c8ae"/>
<rect x="393.24" y="116.25" width="39.22" height="8.09" fill="#aadfd3"/>
<rect x="393.24" y="124.04" width="39.22" height="8.09" fill="#74c8ae"/>
<rect x="393.24" y="131.83" width="39.22" height="8.09" fill="#4db485"/>
<rect x="393.24" y="139.62" width="39.22" height="8.09" fill="#aadfd3"/>
<rect x="393.24" y="147.41" width="39.22" height="15.88" fill="#d6f0ee"/>
<rect x="393.24" y="162.99" width="39.22" height="8.09" fill="#8fd4c2"/>
<rect x="393.24" y="170.78" width="39.22" height="8.09" fill="#c5e9e2"/>
<rect x="393.24" y="178.57" width="39.22" height="8.09" fill="#74c8ae"/>
<rect x="393.24" y="186.36" width="39.22" height="8.09" fill="#37a266"/>
<rect x="393.24" y="194.15" width="39.22" height="8.09" fill="#4db485"/>
<rect x="393.24" y="201.94" width="39.22" height="15.88" fill="#00441b"/>
<rect x="393.24" y="217.52" width="39.22" height="8.09" fill="#74c8ae"/>
<rect x="393.24" y="225.31" width="39.22" height="15.88" fill="#aadfd3"/>
<rect x="393.24" y="240.89" width="39.22" height="15.88" fill="#8fd4c2"/>
<rect x="393.24" y="256.47" width="39.22" height="8.09" fill="#60bf9d"/>
<rect x="393.24" y="264.26" width="39.22" height="15.88" fill="#aadfd3"/>
<rect x="393.24" y="279.84" width="39.22" height="8.09" fill="#60bf9d"/>
<rect x="393.24" y="287.63" width="39.22" height="15.88" fill="#8fd4c2"/>
<rect x="393.24" y="303.21" width="39.22" height="8.09" fill="#60bf9d"/>
<rect x="393.24" y="311.00" width="39.22" height="15.88" fill="#37a266"/>
<rect x="393.24" y="326.58" width="39.22" height="8.09" fill="#00441b"/>
<rect x="393.24" y="334.37" width="39.22" height="8.09" fill="#37a266"/>
<rect x="393.24" y="342.16" width="39.22" height="15.88" fill="#c5e9e2"/>
<rect x="393.24" y="357.74" width="39.22" height="8.09" fill="#e3f4f8"/>
<rect x="393.24" y="365.53" width="39.22" height="8.09" fill="#60bf9d"/>
<rect x="393.24" y="373.32" width="39.22" height="23.67" fill="#37a266"/>
<rect x="393.24" y="396.69" width="39.22" height="8.09" fill="#026f2e"/>
<rect x="393.24" y="404.48" width="39.22" height="8.09" fill="#00441b"/>
<rect x="393.24" y="412.27" width="39.22" height="15.88" fill="#60bf9d"/>
<rect x="393.24" y="427.85" width="39.22" height="8.09" fill="#37a266"/>
<rect x="393.24" y="435.64" width="39.22" height="8.09" fill="#8fd4c2"/>
<rect x="393.24" y="443.43" width="39.22" height="8.09" fill="#e3f4f8"/>
<rect x="393.24" y="451.22" width="39.22" height="8.09" fill="#aadfd3"/>
<rect x="393.24" y="459.01" width="39.22" height="8.09" fill="#e3f4f8"/>
<rect x="393.24" y="466.80" width="39.22" height="8.09" fill="#aadfd3"/>
<rect x="393.24" y="474.59" width="39.22" height="8.09" fill="#74c8ae"/>
<rect x="393.24" y="482.38" width="39.22" height="15.88" fill="#aadfd3"/>
<rect x="393.24" y="497.96" width="39.22" height="8.09" fill="#74c8ae"/>
<rect x="393.24" y="505.75" width="39.22" height="8.09" fill="#c5e9e2"/>
<rect x="393.24" y="513.54" width="39.22" height="8.09" fill="#74c8ae"/>
<rect x="393.24" y="521.33" width="39.22" height="8.09" fill="#157f3b"/>
<rect x="393.24" y="529.12" width="39.22" height="8.09" fill="#aadfd3"/>
<rect x="393.24" y="536.91" width="39.22" height="8.09" fill="#8fd4c2"/>
<rect x="393.24" y="544.70" width="39.22" height="8.09" fill="#aadfd3"/>
<rect x="393.24" y="552.49" width="39.22" height="8.09" fill="#37a266"/>
<rect x="393.24" y="560.28" width="39.22" height="8.09" fill="#27904c"/>
<rect x="393.24" y="568.07" width="39.22" height="8.09" fill="#aadfd3"/>
<rect x="393.24" y="575.86" width="39.22" height="8.09" fill="#8fd4c2"/>
<rect x="393.24" y="583.65" width="39.22" height="8.09" fill="#aadfd3"/>
<rect x="393.24" y="591.44" width="39.22" height="8.09" fill="#c5e9e2"/>
<rect x="393.24" y="599.23" width="39.22" height="15.88" fill="#d6f0ee"/>
<rect x="393.24" y="614.81" width="39.22" height="8.09" fill="#74c8ae"/>
<rect x="393.24" y="622.60" width="39.22" height="8.09" fill="#8fd4c2"/>
<rect x="393.24" y="630.39" width="39.22" height="8.09" fill="#27904c"/>
<rect x="393.24" y="638.18" width="39.22" height="8.09" fill="#60bf9d"/>
<rect x="393.24" y="645.97" width="39.22" height="8.09" fill="#4db485"/>
<rect x="393.24" y="653.76" width="39.22" height="8.09" fill="#aadfd3"/>
<rect x="393.24" y="661.55" width="39.22" height="8.09" fill="#60bf9d"/>
<rect x="393.24" y="669.34" width="39.22" height="8.09" fill="#c5e9e2"/>
<rect x="393.24" y="677.13" width="39.22" height="8.09" fill="#edf8fb"/>
<rect x="432.16" y="-0.60" width="39.22" height="8.09" fill="#27904c"/>
<rect x="432.16" y="7.19" width="39.22" height="8.09" fill="#60bf9d"/>
<rect x="432.16" y="14.98" width="39.22" height="8.09" fill="#c5e9e2"/>
<rect x="432.16" y="22.77" width="39.22" height="8.09" fill="#aadfd3"/>
<rect x="432.16" y="30.56" width="39.22" height="8.09" fill="#8fd4c2"/>
<rect x="432.16" y="38.35" width="39.22" height="8.09" fill="#4db485"/>
<rect x="432.16" y="46.14" width="39.22" height="8.09" fill="#60bf9d"/>
<rect x="432.16" y="53.93" width="39.22" height="8.09" fill="#e3f4f8"/>
<rect x="432.16" y="61.72" width="39.22" height="8.09" fill="#aadfd3"/>
<rect x="432.16" y="69.51" width="39.22" height="8.09" fill="#4db485"/>
<rect x="432.16" y="77.30" width="39.22" height="8.09" fill="#37a266"/>
<rect x="432.16" y="85.09" width="39.22" height="8.09" fill="#4db485"/>
<rect x="432.16" y="92.88" width="39.22" height="8.09" fill="#aadfd3"/>
<rect x="432.16" y="100.67" width="39.22" height="8.09" fill="#27904c"/>
<rect x="432.16" y="108.46" width="39.22" height="8.09" fill="#74c8ae"/>
<rect x="432.16" y="116.25" width="39.22" height="8.09" fill="#4db485"/>
<rect x="432.16" y="124.04" width="39.22" height="8.09" fill="#74c8ae"/>
<rect x="432.16" y="131.83" width="39.22" height="8.09" fill="#8fd4c2"/>
<rect x="432.16" y="139.62" width="39.22" height="8.09" fill="#74c8ae"/>
<rect x="432.16" y="147.41" width="39.22" height="8.09" fill="#4db485"/>
<rect x="432.16" y="155.20" width="39.22" height="8.09" fill="#60bf9d"/>
<rect x="432.16" y="162.99" width="39.22" height="8.09" fill="#f7fcfd"/>
<rect x="432.16" y="170.78" width="39.22" height="15.88" fill="#edf8fb"/>
<rect x="432.16" y="186.36" width="39.22" height="8.09" fill="#157f3b"/>
<rect x="432.16" y="194.15" width="39.22" height="8.09" fill="#60bf9d"/>
<rect x="432.16" y="201.94" width="39.22" height="8.09" fill="#74c8ae"/>
<rect x="432.16" y="209.73" width="39.22" height="15.88" fill="#aadfd3"/>
<rect x="432.16" y="225.31" width="39.22" height="8.09" fill="#4db485"/>
<rect x="432.16" y="233.10" width="39.22" height="8.09" fill="#edf8fb"/>
<rect x="432.16" y="240.89" width="39.22" height="8.09" fill="#74c8ae"/>
<rect x="432.16" y="248.68" width="39.22" height="8.09" fill="#e3f4f8"/>
<rect x="432.16" y="256.47" width="39.22" height="8.09" fill="#edf8fb"/>
<rect x="432.16" y="264.26" width="39.22" height="23.67" fill="#4db485"/>
<rect x="432.16" y="287.63" width="39.22" height="15.88" fill="#157f3b"/>
<rect x="432.16" y="303.21" width="39.22" height="8.09" fill="#27904c"/>
<rect x="432.16" y="311.00" width="39.22" height="8.09" fill="#37a266"/>
<rect x="432.16" y="318.79" width="39.22" height="23.67" fill="#4db485"/>
<rect x="432.16" y="342.16" width="39.22" height="8.09" fill="#37a266"/>
<rect x="432.16" y="349.95" width="39.22" height="8.09" fill="#60bf9d"/>
<rect x="432.16" y="357.74" width="39.22" height="8.09" fill="#8fd4c2"/>
<rect x="432.16" y="365.53" width="39.22" height="8.09" fill="#aadfd3"/>
<rect x="432.16" y="373.32" width="39.22" height="8.09" fill="#c5e9e2"/>
<rect x="432.16" y="381.11" width="39.22" height="8.09" fill="#74c8ae"/>
<rect x="432.16" y="388.90" width="39.22" height="8.09" fill="#aadfd3"/>
<rect x="432.16" y="396.69" width="39.22" height="8.09" fill="#c5e9e2"/>
<rect x="432.16" y="404.48" width="39.22" height="8.09" fill="#edf8fb"/>
<rect x="432.16" y="412.27" width="39.22" height="8.09" fill="#4db485"/>
<rect x="432.16" y="420.06" width="39.22" height="8.09" fill="#37a266"/>
<rect x="432.16" y="427.85" width="39.22" height="8.09" fill="#4db485"/>
<rect x="432.16" y="435.64" width="39.22" height="8.09" fill="#37a266"/>
<rect x="432.16" y="443.43" width="39.22" height="8.09" fill="#60bf9d"/>
<rect x="432.16" y="451.22" width="39.22" height="8.09" fill="#026f2e"/>
<rect x="432.16" y="459.01" width="39.22" height="15.88" fill="#27904c"/>
<rect x="432.16" y="474.59" width="39.22" height="8.09" fill="#37a266"/>
<rect x="432.16" y="482.38" width="39.22" height="8.09" fill="#27904c"/>
<rect x="432.16" y="490.17" width="39.22" height="23.67" fill="#60bf9d"/>
<rect x="432.16" y="513.54" width="39.22" height="8.09" fill="#27904c"/>
<rect x="432.16" y="521.33" width="39.22" height="8.09" fill="#37a266"/>
<rect x="432.16" y="529.12" width="39.22" height="8.09" fill="#60bf9d"/>
<rect x="432.16" y="536.91" width="39.22" height="15.88" fill="#157f3b"/>
<rect x="432.16" y="552.49" width="39.22" height="8.09" fill="#60bf9d"/>
<rect x="432.16" y="560.28" width="39.22" height="8.09" fill="#74c8ae"/>
<rect x="432.16" y="568.07" width="39.22" height="8.09" fill="#8fd4c2"/>
<rect x="432.16" y="575.86" width="39.22" height="8.09" fill="#c5e9e2"/>
<rect x="432.16" y="583.65" width="39.22" height="8.09" fill="#edf8fb"/>
<rect x="432.16" y="591.44" width="39.22" height="8.09" fill="#e3f4f8"/>
<rect x="432.16" y="599.23" width="39.22" height="8.09" fill="#aadfd3"/>
<rect x="432.16" y="607.02" width="39.22" height="8.09" fill="#e3f4f8"/>
<rect x="432.16" y="614.81" width="39.22" height="8.09" fill="#157f3b"/>
<rect x="432.16" y="622.60" width="39.22" height="8.09" fill="#37a266"/>
<rect x="432.16" y="630.39" width="39.22" height="8.09" fill="#60bf9d"/>
<rect x="432.16" y="638.18" width="39.22" height="23.67" fill="#8fd4c2"/>
<rect x="432.16" y="661.55" width="39.22" height="8.09" fill="#37a266"/>
<rect x="432.16" y="669.34" width="39.22" height="8.09" fill="#60bf9d"/>
<rect x="432.16" y="677.13" width="39.22" height="8.09" fill="#c5e9e2"/>
<rect x="471.08" y="-0.60" width="39.22" height="15.88" fill="#aadfd3"/>
<rect x="471.08" y="14.98" width="39.22" height="8.09" fill="#60bf9d"/>
<rect x="471.08" y="22.77" width="39.22" height="8.09" fill="#d6f0ee"/>
<rect x="471.08" y="30.56" width="39.22" height="8.09" fill="#60bf9d"/>
<rect x="471.08" y="38.35" width="39.22" height="8.09" fill="#aadfd3"/>
<rect x="471.08" y="46.14" width="39.22" height="8.09" fill="#d6f0ee"/>
<rect x="471.08" y="53.93" width="39.22" height="8.09" fill="#60bf9d"/>
<rect x="471.08" y="61.72" width="39.22" height="15.88" fill="#4db485"/>
<rect x="471.08" y="77.30" width="39.22" height="8.09" fill="#27904c"/>
<rect x="471.08" y="85.09" width="39.22" height="8.09" fill="#8fd4c2"/>
<rect x="471.08" y="92.88" width="39.22" height="8.09" fill="#37a266"/>
<rect x="471.08" y="100.67" width="39.22" height="15.88" fill="#27904c"/>
<rect x="471.08" y="116.25" width="39.22" height="8.09" fill="#37a266"/>
<rect x="471.08" y="124.04" width="39.22" height="8.09" fill="#27904c"/>
<rect x="471.08" y="131.83" width="39.22" height="8.09" fill="#4db485"/>
<rect x="471.08" y="139.62" width="39.22" height="8.09" fill="#37a266"/>
<rect x="471.08" y="147.41" width="39.22" height="8.09" fill="#157f3b"/>
<rect x="471.08" y="155.20" width="39.22" height="8.09" fill="#4db485"/>
<rect x="471.08" y="162.99" width="39.22" height="8.09" fill="#d6f0ee"/>
<rect x="471.08" y="170.78" width="39.22" height="8.09" fill="#c5e9e2"/>
<rect x="471.08" y="178.57" width="39.22" height="8.09" fill="#00441b"/>
<rect x="471.08" y="186.36" width="39.22" height="8.09" fill="#005a24"/>
<rect x="471.08" y="194.15" width="39.22" height="8.09" fill="#27904c"/>
<rect x="471.08" y="201.94" width="39.22" height="8.09" fill="#37a266"/>
<rect x="471.08" y="209.73" width="39.22" height="8.09" fill="#4db485"/>
<rect x="471.08" y="217.52" width="39.22" height="15.88" fill="#8fd4c2"/>
<rect x="471.08" y="233.10" width="39.22" height="8.09" fill="#edf8fb"/>
<rect x="471.08" y="240.89" width="39.22" height="8.09" fill="#37a266"/>
<rect x="471.08" y="248.68" width="39.22" height="8.09" fill="#4db485"/>
<rect x="471.08" y="256.47" width="39.22" height="8.09" fill="#60bf9d"/>
<rect x="471.08" y="264.26" width="39.22" height="8.09" fill="#aadfd3"/>
<rect x="471.08" y="272.05" width="39.22" height="8.09" fill="#8fd4c2"/>
<rect x="471.08" y="279.84" width="39.22" height="8.09" fill="#60bf9d"/>
<rect x="471.08" y="287.63" width="39.22" height="15.88" fill="#37a266"/>
<rect x="471.08" y="303.21" width="39.22" height="8.09" fill="#157f3b"/>
<rect x="471.08" y="311.00" width="39.22" height="8.09" fill="#27904c"/>
<rect x="471.08" y="318.79" width="39.22" height="8.09" fill="#4db485"/>
<rect x="471.08" y="326.58" width="39.22" height="8.09" fill="#157f3b"/>
<rect x="471.08" y="334.37" width="39.22" height="8.09" fill="#00441b"/>
<rect x="471.08" y="342.16" width="39.22" height="15.88" fill="#37a266"/>
<rect x="471.08" y="357.74" width="39.22" height="8.09" fill="#60bf9d"/>
<rect x="471.08" y="365.53" width="39.22" height="8.09" fill="#8fd4c2"/>
<rect x="471.08" y="373.32" width="39.22" height="8.09" fill="#c5e9e2"/>
<rect x="471.08" y="381.11" width="39.22" height="8.09" fill="#d6f0ee"/>
<rect x="471.08" y="388.90" width="39.22" height="8.09" fill="#74c8ae"/>
<rect x="471.08" y="396.69" width="39.22" height="8.09" fill="#27904c"/>
<rect x="471.08" y="404.48" width="39.22" height="8.09" fill="#37a266"/>
<rect x="471.08" y="412.27" width="39.22" height="8.09" fill="#4db485"/>
<rect x="471.08" y="420.06" width="39.22" height="8.09" fill="#37a266"/>
<rect x="471.08" y="427.85" width="39.22" height="15.88" fill="#026f2e"/>
<rect x="471.08" y="443.43" width="39.22" height="8.09" fill="#27904c"/>
<rect x="471.08" y="451.22" width="39.22" height="23.67" fill="#74c8ae"/>
<rect x="471.08" y="474.59" width="39.22" height="8.09" fill="#c5e9e2"/>
<rect x="471.08" y="482.38" width="39.22" height="23.67" fill="#8fd4c2"/>
<rect x="471.08" y="505.75" width="39.22" height="8.09" fill="#c5e9e2"/>
<rect x="471.08" y="513.54" width="39.22" height="8.09" fill="#74c8ae"/>
<rect x="471.08" y="521.33" width="39.22" height="8.09" fill="#c5e9e2"/>
<rect x="471.08" y="529.12" width="39.22" height="8.09" fill="#026f2e"/>
<rect x="471.08" y="536.91" width="39.22" height="23.67" fill="#157f3b"/>
<rect x="471.08" y="560.28" width="39.22" height="8.09" fill="#026f2e"/>
<rect x="471.08" y="568.07" width="39.22" height="8.09" fill="#27904c"/>
<rect x="471.08" y="575.86" width="39.22" height="15.88" fill="#4db485"/>
<rect x="471.08" y="591.44" width="39.22" height="8.09" fill="#60bf9d"/>
<rect x="471.08" y="599.23" width="39.22" height="15.88" fill="#aadfd3"/>
<rect x="471.08" y="614.81" width="39.22" height="8.09" fill="#27904c"/>
<rect x="471.08" y="622.60" width="39.22" height="8.09" fill="#37a266"/>
<rect x="471.08" y="630.39" width="39.22" height="8.09" fill="#aadfd3"/>
<rect x="471.08" y="638.18" width="39.22" height="8.09" fill="#d6f0ee"/>
<rect x="471.08" y="645.97" width="39.22" height="8.09" fill="#74c8ae"/>
<rect x="471.08" y="653.76" width="39.22" height="8.09" fill="#4db485"/>
<rect x="471.08" y="661.55" width="39.22" height="8.09" fill="#27904c"/>
<rect x="471.08" y="669.34" width="39.22" height="8.09" fill="#157f3b"/>
<rect x="471.08" y="677.13" width="39.22" height="8.09" fill="#f7fcfd"/>
</g>
<rect x="106.4" y="-0.60" width="14.5" height="187.16" fill="#CCB974"/>
<rect x="106.4" y="186.36" width="14.5" height="70.31" fill="#937860"/>
<rect x="106.4" y="256.47" width="14.5" height="93.68" fill="#8172B3"/>
<rect x="106.4" y="349.95" width="14.5" height="101.47" fill="#C44E52"/>
<rect x="106.4" y="451.22" width="14.5" height="163.79" fill="#55A868"/>
<rect x="106.4" y="614.81" width="14.5" height="46.94" fill="#DD8452"/>
<rect x="106.4" y="661.55" width="14.5" height="23.57" fill="#4C72B0"/>
<g stroke="#444" stroke-width="0.7">
<line x1="510.2" x2="515.2" y1="4.30" y2="4.30"/>
<line x1="510.2" x2="515.2" y1="27.61" y2="27.61"/>
<line x1="510.2" x2="515.2" y1="50.92" y2="50.92"/>
<line x1="510.2" x2="515.2" y1="74.23" y2="74.23"/>
<line x1="510.2" x2="515.2" y1="97.54" y2="97.54"/>
<line x1="510.2" x2="515.2" y1="120.85" y2="120.85"/>
<line x1="510.2" x2="515.2" y1="144.16" y2="144.16"/>
<line x1="510.2" x2="515.2" y1="167.47" y2="167.47"/>
<line x1="510.2" x2="515.2" y1="190.78" y2="190.78"/>
<line x1="510.2" x2="515.2" y1="214.09" y2="214.09"/>
<line x1="510.2" x2="515.2" y1="237.40" y2="237.40"/>
<line x1="510.2" x2="515.2" y1="260.71" y2="260.71"/>
<line x1="510.2" x2="515.2" y1="284.02" y2="284.02"/>
<line x1="510.2" x2="515.2" y1="307.33" y2="307.33"/>
<line x1="510.2" x2="515.2" y1="330.64" y2="330.64"/>
<line x1="510.2" x2="515.2" y1="353.95" y2="353.95"/>
<line x1="510.2" x2="515.2" y1="377.26" y2="377.26"/>
<line x1="510.2" x2="515.2" y1="400.57" y2="400.57"/>
<line x1="510.2" x2="515.2" y1="423.88" y2="423.88"/>
<line x1="510.2" x2="515.2" y1="447.19" y2="447.19"/>
<line x1="510.2" x2="515.2" y1="470.50" y2="470.50"/>
<line x1="510.2" x2="515.2" y1="493.81" y2="493.81"/>
<line x1="510.2" x2="515.2" y1="517.12" y2="517.12"/>
<line x1="510.2" x2="515.2" y1="540.43" y2="540.43"/>
<line x1="510.2" x2="515.2" y1="563.74" y2="563.74"/>
<line x1="510.2" x2="515.2" y1="587.05" y2="587.05"/>
<line x1="510.2" x2="515.2" y1="610.36" y2="610.36"/>
<line x1="510.2" x2="515.2" y1="633.67" y2="633.67"/>
<line x1="510.2" x2="515.2" y1="656.98" y2="656.98"/>
<line x1="510.2" x2="515.2" y1="680.29" y2="680.29"/>
</g>
<g stroke="#555" stroke-width="0.8" fill="none">
<path d="M518.2 0.60 H524.8 V185.70 H518.2"/>
<path d="M518.2 187.60 H524.8 V252.80 H518.2"/>
<path d="M518.2 255.50 H524.8 V348.90 H518.2"/>
<path d="M518.2 350.80 H524.8 V450.00 H518.2"/>
<path d="M518.2 451.90 H524.8 V612.70 H518.2"/>
<path d="M518.2 614.60 H524.8 V659.30 H518.2"/>
<path d="M518.2 660.60 H524.8 V682.30 H518.2"/>
</g>
<path d="M106.4 11.2H96.9V19.0H106.4M106.4 3.4H94.4V15.1H96.9M106.4 34.5H102.7V42.3H106.4M102.7 38.4H100.7V50.1H106.4M106.4 26.7H99.4V44.3H100.7M99.4 35.5H98.3V57.9H106.4M106.4 65.7H101.3V73.4H106.4M98.3 46.7H95.5V69.6H101.3M94.4 9.2H92.3V58.1H95.5M106.4 89.0H101.3V96.8H106.4M106.4 104.6H102.1V112.4H106.4M102.1 108.5H101.3V120.1H106.4M101.3 92.9H98.4V114.3H101.3M98.4 103.6H95.9V127.9H106.4M106.4 81.2H95.4V115.8H95.9M106.4 143.5H102.4V151.3H106.4M102.4 147.4H101.4V159.1H106.4M106.4 135.7H99.8V153.2H101.4M95.4 98.5H94.3V144.5H99.8M106.4 166.8H100.4V174.6H106.4M100.4 170.7H93.2V182.4H106.4M94.3 121.5H82.9V176.6H93.2M92.3 33.7H78.3V149.0H82.9M106.4 190.2H99.7V198.0H106.4M106.4 205.8H100.2V213.5H106.4M99.7 194.1H93.3V209.6H100.2M106.4 229.1H97.4V236.9H106.4M106.4 221.3H96.9V233.0H97.4M106.4 244.7H99.7V252.5H106.4M96.9 227.2H94.5V248.6H99.7M93.3 201.9H87.3V237.9H94.5M106.4 268.0H100.6V275.8H106.4M106.4 291.4H103.8V299.2H106.4M106.4 283.6H100.0V295.3H103.8M100.6 271.9H96.5V289.4H100.0M106.4 314.7H102.5V322.5H106.4M106.4 306.9H98.5V318.6H102.5M96.5 280.7H93.7V312.8H98.5M106.4 260.2H93.2V296.7H93.7M106.4 330.3H100.6V338.1H106.4M100.6 334.2H93.4V345.9H106.4M93.2 278.5H89.8V340.0H93.4M87.3 219.9H52.3V309.2H89.8M78.3 91.4H19.2V264.6H52.3M106.4 353.6H100.7V361.4H106.4M106.4 369.2H102.2V377.0H106.4M106.4 384.8H101.8V392.6H106.4M102.2 373.1H96.8V388.7H101.8M100.7 357.5H94.4V380.9H96.8M106.4 400.3H102.5V408.1H106.4M94.4 369.2H91.0V404.2H102.5M106.4 415.9H102.2V423.7H106.4M106.4 431.5H100.7V439.2H106.4M102.2 419.8H98.7V435.4H100.7M98.7 427.6H93.6V447.0H106.4M91.0 386.7H90.0V437.3H93.6M106.4 462.6H103.1V470.4H106.4M106.4 454.8H99.4V466.5H103.1M106.4 478.2H101.4V485.9H106.4M106.4 493.7H103.7V501.5H106.4M103.7 497.6H102.3V509.3H106.4M101.4 482.1H100.0V503.5H102.3M106.4 517.1H100.5V524.9H106.4M100.0 492.8H97.3V521.0H100.5M99.4 460.7H94.8V506.9H97.3M106.4 540.4H101.5V548.2H106.4M106.4 532.6H100.0V544.3H101.5M106.4 556.0H100.9V563.8H106.4M100.0 538.5H96.2V559.9H100.9M94.8 483.8H88.5V549.2H96.2M106.4 571.6H101.8V579.3H106.4M101.8 575.5H101.6V587.1H106.4M106.4 594.9H100.9V602.7H106.4M101.6 581.3H97.6V598.8H100.9M97.6 590.0H94.4V610.5H106.4M88.5 516.5H85.5V600.3H94.4M90.0 412.0H80.6V558.4H85.5M106.4 618.3H102.6V626.0H106.4M106.4 633.8H102.3V641.6H106.4M102.3 637.7H98.4V649.4H106.4M98.4 643.6H96.6V657.2H106.4M102.6 622.1H90.4V650.4H96.6M106.4 665.0H98.7V672.7H106.4M98.7 668.8H90.4V680.5H106.4M90.4 636.3H84.4V674.7H90.4M80.6 485.2H66.9V655.5H84.4M19.2 178.0H10.0V570.3H66.9" fill="none" stroke="#333" stroke-width="0.65"/>
<text x="564.9" y="70.5" font-size="12.10" text-anchor="middle" textLength="37.2" lengthAdjust="spacingAndGlyphs">Class 1</text>
<text x="565.0" y="82.4" font-size="10.45" text-anchor="middle">Zipper stems</text>
<text x="604.0" y="79.2" font-size="11.40" text-anchor="start">27.2%</text>
<text x="564.0" y="187.6" font-size="12.10" text-anchor="middle" textLength="38.6" lengthAdjust="spacingAndGlyphs">Class 2</text>
<text x="564.0" y="199.7" font-size="10.75" text-anchor="middle">Zipper and</text>
<text x="564.0" y="211.0" font-size="10.75" text-anchor="middle">downstream</text>
<text x="564.0" y="223.2" font-size="10.75" text-anchor="middle">stems</text>
<text x="603.5" y="210.5" font-size="11.40" text-anchor="start">10.2%</text>
<text x="564.3" y="289.7" font-size="12.10" text-anchor="middle" textLength="38.6" lengthAdjust="spacingAndGlyphs">Class 3</text>
<text x="564.0" y="301.6" font-size="10.75" text-anchor="middle">Downstream</text>
<text x="564.0" y="313.2" font-size="10.75" text-anchor="middle">stems</text>
<text x="604.0" y="295.7" font-size="11.40" text-anchor="start">13.6%</text>
<text x="564.0" y="369.2" font-size="12.10" text-anchor="middle" textLength="38.6" lengthAdjust="spacingAndGlyphs">Class 4</text>
<text x="564.0" y="381.1" font-size="10.75" text-anchor="middle">Remaining</text>
<text x="564.0" y="393.2" font-size="10.75" text-anchor="middle">structured</text>
<text x="564.0" y="404.9" font-size="10.75" text-anchor="middle">long introns</text>
<text x="603.2" y="384.0" font-size="11.40" text-anchor="start">14.8%</text>
<text x="564.3" y="483.8" font-size="12.10" text-anchor="middle" textLength="38.6" lengthAdjust="spacingAndGlyphs">Class 5</text>
<text x="564.0" y="496.2" font-size="10.75" text-anchor="middle">Long introns</text>
<text x="564.0" y="507.6" font-size="10.75" text-anchor="middle">with low or</text>
<text x="564.0" y="520.3" font-size="10.75" text-anchor="middle">intermediate</text>
<text x="564.0" y="531.6" font-size="10.75" text-anchor="middle">structure</text>
<text x="604.0" y="496.8" font-size="11.40" text-anchor="start">23.9%</text>
<text x="564.0" y="618.9" font-size="12.10" text-anchor="middle" textLength="38.6" lengthAdjust="spacingAndGlyphs">Class 6</text>
<text x="564.0" y="631.6" font-size="10.75" text-anchor="middle">Unstructured</text>
<text x="564.0" y="643.2" font-size="10.75" text-anchor="middle">short introns</text>
<text x="604.0" y="621.6" font-size="11.40" text-anchor="start">6.82%</text>
<text x="564.9" y="670.2" font-size="12.10" text-anchor="middle" textLength="38.6" lengthAdjust="spacingAndGlyphs">Class 7</text>
<text x="564.0" y="682.9" font-size="10.75" text-anchor="middle">Structured</text>
<text x="564.0" y="694.3" font-size="10.75" text-anchor="middle">short introns</text>
<text x="606.0" y="669.2" font-size="11.40" text-anchor="start">3.41%</text>
<text x="536.0" y="135.0" font-size="8.70" text-anchor="start">5′ splice site</text>
<text x="591.1" y="106.2" font-size="8.70" text-anchor="start">Branch point</text>
<text x="629.0" y="139.1" font-size="8.70" text-anchor="start">3′ splice site</text>
<rect x="523" y="713.5" width="113" height="18.1" fill="url(#g)"/>
<text x="523.0" y="743.8" font-size="10.00" text-anchor="middle">0</text>
<text x="635.5" y="743.8" font-size="10.00" text-anchor="middle">1</text>
<text x="577.8" y="756.0" font-size="12.50" text-anchor="middle">Normalized</text>
<text x="577.8" y="769.7" font-size="12.50" text-anchor="middle">feature value</text>
<text font-size="12.6" text-anchor="end" transform="translate(144.8 694.6) rotate(-45)">Intron len</text>
<text font-size="12.6" text-anchor="end" transform="translate(183.7 694.6) rotate(-45)">Zipper stem –ΔG</text>
<text font-size="12.6" text-anchor="end" transform="translate(218.6 694.6) rotate(-45)">End stem –ΔG</text>
<text font-size="12.6" text-anchor="end" transform="translate(261.5 694.6) rotate(-45)">Max end extrusion</text>
<text font-size="12.6" text-anchor="end" transform="translate(300.4 694.6) rotate(-45)">Longest stem len</text>
<text font-size="12.6" text-anchor="end" transform="translate(339.4 694.6) rotate(-45)">Avg helix confidence</text>
<text font-size="12.6" text-anchor="end" transform="translate(379.8 694.6) rotate(-45)">Max Gini</text>
<text font-size="12.6" text-anchor="end" transform="translate(415.7 694.6) rotate(-45)">5′SS accessibility</text>
<text font-size="12.6" text-anchor="end" transform="translate(456.1 694.6) rotate(-45)">BP accessibility</text>
<text font-size="12.6" text-anchor="end" transform="translate(495.0 694.6) rotate(-45)">3′SS accessibility</text>
<path d="M534.30 117.40C535.25 117.22 538.05 116.58 540.00 116.30C541.95 116.02 544.00 115.77 546.00 115.70C548.00 115.63 549.67 115.70 552.00 115.90C554.33 116.10 557.25 116.40 560.00 116.90C562.75 117.40 566.17 118.37 568.50 118.90C570.83 119.43 572.25 119.75 574.00 120.10C575.75 120.45 577.95 121.00 579.00 121.00C580.05 121.00 580.08 121.27 580.30 120.10C580.52 118.93 580.30 115.95 580.30 114.00C580.30 112.05 580.37 109.82 580.30 108.40C580.23 106.98 580.18 106.43 579.90 105.50C579.62 104.57 578.65 103.58 578.60 102.80C578.55 102.02 578.98 101.57 579.60 100.80C580.22 100.03 581.63 99.37 582.30 98.20C582.97 97.03 583.38 94.93 583.60 93.80C583.82 92.67 583.15 92.07 583.60 91.40C584.05 90.73 585.30 89.80 586.30 89.80C587.30 89.80 589.05 90.73 589.60 91.40C590.15 92.07 589.95 93.17 589.60 93.80C589.25 94.43 588.13 94.77 587.50 95.20C586.87 95.63 586.38 95.47 585.80 96.40C585.22 97.33 584.43 99.28 584.00 100.80C583.57 102.32 583.40 103.27 583.20 105.50C583.00 107.73 582.88 111.87 582.80 114.20C582.72 116.53 582.55 118.28 582.70 119.50C582.85 120.72 583.15 121.12 583.70 121.50C584.25 121.88 584.95 121.88 586.00 121.80C587.05 121.72 588.63 121.33 590.00 121.00C591.37 120.67 592.70 120.27 594.20 119.80C595.70 119.33 597.23 118.70 599.00 118.20C600.77 117.70 603.30 117.00 604.80 116.80C606.30 116.60 606.70 116.80 608.00 117.00C609.30 117.20 611.02 117.55 612.60 118.00C614.18 118.45 615.77 119.13 617.50 119.70C619.23 120.27 621.08 120.82 623.00 121.40C624.92 121.98 627.03 122.77 629.00 123.20C630.97 123.63 632.97 123.98 634.80 124.00C636.63 124.02 638.47 123.63 640.00 123.30C641.53 122.97 642.17 122.52 644.00 122.00C645.83 121.48 649.17 120.70 651.00 120.20C652.83 119.70 653.67 119.28 655.00 119.00C656.33 118.72 657.50 118.40 659.00 118.50C660.50 118.60 662.38 119.02 664.00 119.60C665.62 120.18 667.92 121.60 668.70 122.00" stroke="#111" stroke-width="1.05" fill="none" stroke-linecap="round" stroke-linejoin="round"/>
<path d="M560.00 116.90C562.75 117.40 566.17 118.37 568.50 118.90" stroke="#fff" stroke-width="1.65" fill="none"/>
<path d="M560.00 116.90C562.75 117.40 566.17 118.37 568.50 118.90" stroke="#c29ad6" stroke-width="1.15" fill="none"/>
<path d="M612.60 118.00C614.18 118.45 615.77 119.13 617.50 119.70C619.23 120.27 621.08 120.82 623.00 121.40" stroke="#fff" stroke-width="1.65" fill="none"/>
<path d="M612.60 118.00C614.18 118.45 615.77 119.13 617.50 119.70C619.23 120.27 621.08 120.82 623.00 121.40" stroke="#43bccd" stroke-width="1.15" fill="none"/>
<path d="M644.00 122.00C645.83 121.48 649.17 120.70 651.00 120.20" stroke="#fff" stroke-width="1.65" fill="none"/>
<path d="M644.00 122.00C645.83 121.48 649.17 120.70 651.00 120.20" stroke="#d5d820" stroke-width="1.15" fill="none"/>
<path d="M539.70 249.20C540.75 248.98 543.95 248.17 546.00 247.90C548.05 247.63 550.00 247.55 552.00 247.60C554.00 247.65 555.85 247.93 558.00 248.20C560.15 248.47 562.32 248.67 564.90 249.20C567.48 249.73 571.15 250.85 573.50 251.40C575.85 251.95 577.15 252.17 579.00 252.50C580.85 252.83 583.48 253.43 584.60 253.40C585.72 253.37 585.52 253.53 585.70 252.30C585.88 251.07 585.70 248.15 585.70 246.00C585.70 243.85 585.77 241.77 585.70 239.40C585.63 237.03 585.50 233.60 585.30 231.80C585.10 230.00 584.95 229.43 584.50 228.60C584.05 227.77 583.02 227.43 582.60 226.80C582.18 226.17 581.90 225.58 582.00 224.80C582.10 224.02 582.47 222.72 583.20 222.10C583.93 221.48 585.33 221.10 586.40 221.10C587.47 221.10 588.90 221.48 589.60 222.10C590.30 222.72 590.60 223.92 590.60 224.80C590.60 225.68 590.07 226.58 589.60 227.40C589.13 228.22 588.15 228.68 587.80 229.70C587.45 230.72 587.47 232.08 587.50 233.50C587.53 234.92 587.70 237.02 588.00 238.20C588.30 239.38 588.83 239.82 589.30 240.60C589.77 241.38 590.70 242.17 590.80 242.90C590.90 243.63 590.40 244.32 589.90 245.00C589.40 245.68 588.20 246.08 587.80 247.00C587.40 247.92 587.40 249.43 587.50 250.50C587.60 251.57 587.90 252.77 588.40 253.40C588.90 254.03 589.18 254.35 590.50 254.30C591.82 254.25 594.55 253.55 596.30 253.10C598.05 252.65 599.53 252.08 601.00 251.60C602.47 251.12 603.60 250.63 605.10 250.20C606.60 249.77 608.52 249.17 610.00 249.00C611.48 248.83 612.50 248.95 614.00 249.20C615.50 249.45 617.42 250.03 619.00 250.50C620.58 250.97 621.95 251.48 623.50 252.00C625.05 252.52 626.88 253.17 628.30 253.60C629.72 254.03 630.75 254.28 632.00 254.60C633.25 254.92 635.03 255.57 635.80 255.50C636.57 255.43 636.47 255.07 636.60 254.20C636.73 253.33 636.73 251.40 636.60 250.30C636.47 249.20 635.80 248.48 635.80 247.60C635.80 246.72 636.13 245.55 636.60 245.00C637.07 244.45 637.93 244.23 638.60 244.30C639.27 244.37 640.20 244.82 640.60 245.40C641.00 245.98 641.30 246.98 641.00 247.80C640.70 248.62 639.30 249.60 638.80 250.30C638.30 251.00 638.13 251.13 638.00 252.00C637.87 252.87 637.72 254.73 638.00 255.50C638.28 256.27 638.47 256.52 639.70 256.60C640.93 256.68 643.72 256.40 645.40 256.00C647.08 255.60 648.05 254.93 649.80 254.20C651.55 253.47 653.87 252.22 655.90 251.60C657.93 250.98 659.82 250.50 662.00 250.50C664.18 250.50 667.02 251.05 669.00 251.60C670.98 252.15 673.08 253.43 673.90 253.80" stroke="#111" stroke-width="1.05" fill="none" stroke-linecap="round" stroke-linejoin="round"/>
<path d="M564.90 249.20C567.48 249.73 571.15 250.85 573.50 251.40" stroke="#fff" stroke-width="1.65" fill="none"/>
<path d="M564.90 249.20C567.48 249.73 571.15 250.85 573.50 251.40" stroke="#c29ad6" stroke-width="1.15" fill="none"/>
<path d="M619.00 250.50C620.58 250.97 621.95 251.48 623.50 252.00C625.05 252.52 626.88 253.17 628.30 253.60" stroke="#fff" stroke-width="1.65" fill="none"/>
<path d="M619.00 250.50C620.58 250.97 621.95 251.48 623.50 252.00C625.05 252.52 626.88 253.17 628.30 253.60" stroke="#43bccd" stroke-width="1.15" fill="none"/>
<path d="M649.80 254.20C651.55 253.47 653.87 252.22 655.90 251.60" stroke="#fff" stroke-width="1.65" fill="none"/>
<path d="M649.80 254.20C651.55 253.47 653.87 252.22 655.90 251.60" stroke="#d5d820" stroke-width="1.15" fill="none"/>
<path d="M549.50 324.60C550.58 324.40 553.92 323.63 556.00 323.40C558.08 323.17 560.00 323.15 562.00 323.20C564.00 323.25 565.95 323.47 568.00 323.70C570.05 323.93 571.90 324.08 574.30 324.60C576.70 325.12 579.95 326.15 582.40 326.80C584.85 327.45 586.73 328.03 589.00 328.50C591.27 328.97 593.72 329.43 596.00 329.60C598.28 329.77 600.53 329.80 602.70 329.50C604.87 329.20 606.95 328.45 609.00 327.80C611.05 327.15 612.90 326.13 615.00 325.60C617.10 325.07 619.42 324.58 621.60 324.60C623.78 324.62 626.20 325.27 628.10 325.70C630.00 326.13 631.33 326.68 633.00 327.20C634.67 327.72 636.60 328.32 638.10 328.80C639.60 329.28 640.75 329.70 642.00 330.10C643.25 330.50 644.85 331.23 645.60 331.20C646.35 331.17 646.32 330.70 646.50 329.90C646.68 329.10 646.90 327.35 646.70 326.40C646.50 325.45 645.42 324.97 645.30 324.20C645.18 323.43 645.55 322.33 646.00 321.80C646.45 321.27 647.27 320.97 648.00 321.00C648.73 321.03 649.95 321.47 650.40 322.00C650.85 322.53 650.97 323.50 650.70 324.20C650.43 324.90 649.27 325.55 648.80 326.20C648.33 326.85 648.00 327.27 647.90 328.10C647.80 328.93 647.63 330.57 648.20 331.20C648.77 331.83 649.92 331.93 651.30 331.90C652.68 331.87 655.05 331.42 656.50 331.00C657.95 330.58 658.32 330.10 660.00 329.40C661.68 328.70 664.27 327.42 666.60 326.80C668.93 326.18 671.60 325.70 674.00 325.70C676.40 325.70 679.17 326.32 681.00 326.80C682.83 327.28 684.33 328.30 685.00 328.60" stroke="#111" stroke-width="1.05" fill="none" stroke-linecap="round" stroke-linejoin="round"/>
<path d="M574.30 324.60C576.70 325.12 579.95 326.15 582.40 326.80" stroke="#fff" stroke-width="1.65" fill="none"/>
<path d="M574.30 324.60C576.70 325.12 579.95 326.15 582.40 326.80" stroke="#c29ad6" stroke-width="1.15" fill="none"/>
<path d="M628.10 325.70C630.00 326.13 631.33 326.68 633.00 327.20C634.67 327.72 636.60 328.32 638.10 328.80" stroke="#fff" stroke-width="1.65" fill="none"/>
<path d="M628.10 325.70C630.00 326.13 631.33 326.68 633.00 327.20C634.67 327.72 636.60 328.32 638.10 328.80" stroke="#43bccd" stroke-width="1.15" fill="none"/>
<path d="M660.00 329.40C661.68 328.70 664.27 327.42 666.60 326.80" stroke="#fff" stroke-width="1.65" fill="none"/>
<path d="M660.00 329.40C661.68 328.70 664.27 327.42 666.60 326.80" stroke="#d5d820" stroke-width="1.15" fill="none"/>
<path d="M559.30 445.00C560.08 444.77 562.38 444.07 564.00 443.60C565.62 443.13 567.22 442.55 569.00 442.20C570.78 441.85 573.12 441.55 574.70 441.50C576.28 441.45 577.20 441.67 578.50 441.90C579.80 442.13 581.42 442.58 582.50 442.90C583.58 443.22 583.85 443.28 585.00 443.80C586.15 444.32 587.57 445.55 589.40 446.00C591.23 446.45 594.18 446.50 596.00 446.50C597.82 446.50 599.40 446.58 600.30 446.00C601.20 445.42 601.25 444.22 601.40 443.00C601.55 441.78 601.57 440.28 601.20 438.70C600.83 437.12 600.07 435.33 599.20 433.50C598.33 431.67 596.85 429.58 596.00 427.70C595.15 425.82 594.83 423.42 594.10 422.20C593.37 420.98 592.27 421.18 591.60 420.40C590.93 419.62 590.10 418.53 590.10 417.50C590.10 416.47 590.87 414.93 591.60 414.20C592.33 413.47 593.53 413.03 594.50 413.10C595.47 413.17 596.73 413.87 597.40 414.60C598.07 415.33 598.38 416.28 598.50 417.50C598.62 418.72 598.03 420.57 598.10 421.90C598.17 423.23 598.47 424.63 598.90 425.50C599.33 426.37 600.03 427.15 600.70 427.10C601.37 427.05 602.30 426.02 602.90 425.20C603.50 424.38 604.00 423.07 604.30 422.20C604.60 421.33 604.33 420.48 604.70 420.00C605.07 419.52 605.77 419.05 606.50 419.30C607.23 419.55 608.55 420.65 609.10 421.50C609.65 422.35 609.87 423.62 609.80 424.40C609.73 425.18 609.37 425.90 608.70 426.20C608.03 426.50 606.72 425.88 605.80 426.20C604.88 426.52 603.85 427.23 603.20 428.10C602.55 428.97 602.07 430.00 601.90 431.40C601.73 432.80 601.85 434.68 602.20 436.50C602.55 438.32 603.33 440.78 604.00 442.30C604.67 443.82 605.35 444.93 606.20 445.60C607.05 446.27 607.52 446.30 609.10 446.30C610.68 446.30 614.07 445.97 615.70 445.60C617.33 445.23 618.12 445.02 618.90 444.10C619.68 443.18 620.15 441.50 620.40 440.10C620.65 438.70 620.58 436.92 620.40 435.70C620.22 434.48 619.85 433.65 619.30 432.80C618.75 431.95 617.58 431.20 617.10 430.60C616.62 430.00 616.33 429.70 616.40 429.20C616.47 428.70 616.83 427.97 617.50 427.60C618.17 427.23 619.37 426.92 620.40 427.00C621.43 427.08 622.97 427.62 623.70 428.10C624.43 428.58 624.73 429.30 624.80 429.90C624.87 430.50 624.47 431.15 624.10 431.70C623.73 432.25 622.88 432.28 622.60 433.20C622.32 434.12 622.28 435.93 622.40 437.20C622.52 438.47 622.85 439.77 623.30 440.80C623.75 441.83 624.18 442.80 625.10 443.40C626.02 444.00 627.63 444.03 628.80 444.40C629.97 444.77 630.73 445.23 632.10 445.60C633.47 445.97 635.23 446.30 637.00 446.60C638.77 446.90 640.87 447.10 642.70 447.40C644.53 447.70 646.35 448.17 648.00 448.40C649.65 448.63 651.10 448.87 652.60 448.80C654.10 448.73 655.43 448.35 657.00 448.00C658.57 447.65 660.12 447.13 662.00 446.70C663.88 446.27 666.58 445.68 668.30 445.40C670.02 445.12 670.82 444.83 672.30 445.00C673.78 445.17 676.38 446.17 677.20 446.40" stroke="#111" stroke-width="1.05" fill="none" stroke-linecap="round" stroke-linejoin="round"/>
<path d="M574.70 441.50C576.28 441.45 577.20 441.67 578.50 441.90C579.80 442.13 581.42 442.58 582.50 442.90" stroke="#fff" stroke-width="1.65" fill="none"/>
<path d="M574.70 441.50C576.28 441.45 577.20 441.67 578.50 441.90C579.80 442.13 581.42 442.58 582.50 442.90" stroke="#c29ad6" stroke-width="1.15" fill="none"/>
<path d="M632.10 445.60C633.47 445.97 635.23 446.30 637.00 446.60C638.77 446.90 640.87 447.10 642.70 447.40" stroke="#fff" stroke-width="1.65" fill="none"/>
<path d="M632.10 445.60C633.47 445.97 635.23 446.30 637.00 446.60C638.77 446.90 640.87 447.10 642.70 447.40" stroke="#43bccd" stroke-width="1.15" fill="none"/>
<path d="M662.00 446.70C663.88 446.27 666.58 445.68 668.30 445.40" stroke="#fff" stroke-width="1.65" fill="none"/>
<path d="M662.00 446.70C663.88 446.27 666.58 445.68 668.30 445.40" stroke="#d5d820" stroke-width="1.15" fill="none"/>
<path d="M556.80 552.40C557.58 552.07 559.97 550.97 561.50 550.40C563.03 549.83 564.32 549.30 566.00 549.00C567.68 548.70 569.77 548.57 571.60 548.60C573.43 548.63 575.20 548.88 577.00 549.20C578.80 549.52 580.37 549.97 582.40 550.50C584.43 551.03 587.27 551.95 589.20 552.40C591.13 552.85 592.28 553.02 594.00 553.20C595.72 553.38 598.43 553.63 599.50 553.50C600.57 553.37 600.25 553.25 600.40 552.40C600.55 551.55 600.70 549.50 600.40 548.40C600.10 547.30 598.93 546.60 598.60 545.80C598.27 545.00 598.13 544.27 598.40 543.60C598.67 542.93 599.42 542.17 600.20 541.80C600.98 541.43 602.27 541.22 603.10 541.40C603.93 541.58 604.88 542.28 605.20 542.90C605.52 543.52 605.43 544.32 605.00 545.10C604.57 545.88 603.10 546.38 602.60 547.60C602.10 548.82 601.85 551.30 602.00 552.40C602.15 553.50 602.47 553.97 603.50 554.20C604.53 554.43 606.70 553.98 608.20 553.80C609.70 553.62 611.03 553.33 612.50 553.10C613.97 552.87 615.98 552.70 617.00 552.40C618.02 552.10 618.38 552.70 618.60 551.30C618.82 549.90 618.45 546.25 618.30 544.00C618.15 541.75 618.22 539.32 617.70 537.80C617.18 536.28 615.68 535.82 615.20 534.90C614.72 533.98 614.57 533.03 614.80 532.30C615.03 531.57 615.75 530.87 616.60 530.50C617.45 530.13 618.87 529.98 619.90 530.10C620.93 530.22 622.17 530.65 622.80 531.20C623.43 531.75 623.82 532.62 623.70 533.40C623.58 534.18 622.60 535.17 622.10 535.90C621.60 536.63 620.93 535.97 620.70 537.80C620.47 539.63 620.58 544.53 620.70 546.90C620.82 549.27 621.05 551.05 621.40 552.00C621.75 552.95 621.22 552.50 622.80 552.60C624.38 552.70 628.70 552.42 630.90 552.60C633.10 552.78 634.40 553.28 636.00 553.70C637.60 554.12 639.00 554.67 640.50 555.10C642.00 555.53 643.55 556.02 645.00 556.30C646.45 556.58 647.78 556.78 649.20 556.80C650.62 556.82 652.12 556.70 653.50 556.40C654.88 556.10 656.18 555.53 657.50 555.00C658.82 554.47 659.72 553.63 661.40 553.20C663.08 552.77 665.83 552.45 667.60 552.40C669.37 552.35 670.65 552.63 672.00 552.90C673.35 553.17 675.08 553.82 675.70 554.00" stroke="#111" stroke-width="1.05" fill="none" stroke-linecap="round" stroke-linejoin="round"/>
<path d="M582.40 550.50C584.43 551.03 587.27 551.95 589.20 552.40" stroke="#fff" stroke-width="1.65" fill="none"/>
<path d="M582.40 550.50C584.43 551.03 587.27 551.95 589.20 552.40" stroke="#c29ad6" stroke-width="1.15" fill="none"/>
<path d="M640.50 555.10C642.00 555.53 643.55 556.02 645.00 556.30C646.45 556.58 647.78 556.78 649.20 556.80" stroke="#fff" stroke-width="1.65" fill="none"/>
<path d="M640.50 555.10C642.00 555.53 643.55 556.02 645.00 556.30C646.45 556.58 647.78 556.78 649.20 556.80" stroke="#43bccd" stroke-width="1.15" fill="none"/>
<path d="M661.40 553.20C663.08 552.77 665.83 552.45 667.60 552.40" stroke="#fff" stroke-width="1.65" fill="none"/>
<path d="M661.40 553.20C663.08 552.77 665.83 552.45 667.60 552.40" stroke="#d5d820" stroke-width="1.15" fill="none"/>
<path d="M544.60 566.80C545.67 566.57 548.75 565.72 551.00 565.40C553.25 565.08 555.93 564.93 558.10 564.90C560.27 564.87 562.07 565.02 564.00 565.20C565.93 565.38 567.22 565.52 569.70 566.00C572.18 566.48 576.35 567.50 578.90 568.10C581.45 568.70 582.98 569.17 585.00 569.60C587.02 570.03 588.95 570.50 591.00 570.70C593.05 570.90 595.13 570.98 597.30 570.80C599.47 570.62 601.88 570.15 604.00 569.60C606.12 569.05 607.97 568.10 610.00 567.50C612.03 566.90 614.53 566.23 616.20 566.00C617.87 565.77 618.78 565.97 620.00 566.10C621.22 566.23 622.17 566.48 623.50 566.80C624.83 567.12 626.42 567.55 628.00 568.00C629.58 568.45 631.33 568.97 633.00 569.50C634.67 570.03 636.42 570.68 638.00 571.20C639.58 571.72 640.95 572.30 642.50 572.60C644.05 572.90 645.80 573.05 647.30 573.00C648.80 572.95 650.15 572.67 651.50 572.30C652.85 571.93 653.75 571.50 655.40 570.80C657.05 570.10 659.63 568.80 661.40 568.10C663.17 567.40 664.52 566.95 666.00 566.60C667.48 566.25 668.72 565.93 670.30 566.00C671.88 566.07 673.80 566.42 675.50 567.00C677.20 567.58 679.67 569.08 680.50 569.50" stroke="#111" stroke-width="1.05" fill="none" stroke-linecap="round" stroke-linejoin="round"/>
<path d="M569.70 566.00C572.18 566.48 576.35 567.50 578.90 568.10" stroke="#fff" stroke-width="1.65" fill="none"/>
<path d="M569.70 566.00C572.18 566.48 576.35 567.50 578.90 568.10" stroke="#c29ad6" stroke-width="1.15" fill="none"/>
<path d="M623.50 566.80C624.83 567.12 626.42 567.55 628.00 568.00C629.58 568.45 631.33 568.97 633.00 569.50" stroke="#fff" stroke-width="1.65" fill="none"/>
<path d="M623.50 566.80C624.83 567.12 626.42 567.55 628.00 568.00C629.58 568.45 631.33 568.97 633.00 569.50" stroke="#43bccd" stroke-width="1.15" fill="none"/>
<path d="M655.40 570.80C657.05 570.10 659.63 568.80 661.40 568.10" stroke="#fff" stroke-width="1.65" fill="none"/>
<path d="M655.40 570.80C657.05 570.10 659.63 568.80 661.40 568.10" stroke="#d5d820" stroke-width="1.15" fill="none"/>
<path d="M610.60 640.80C611.17 640.40 612.80 639.25 614.00 638.40C615.20 637.55 616.63 636.50 617.80 635.70C618.97 634.90 619.98 634.23 621.00 633.60C622.02 632.97 622.73 632.32 623.90 631.90C625.07 631.48 626.38 630.88 628.00 631.10C629.62 631.32 632.02 632.45 633.60 633.20C635.18 633.95 636.22 634.78 637.50 635.60C638.78 636.42 640.05 637.35 641.30 638.10C642.55 638.85 643.82 639.53 645.00 640.10C646.18 640.67 647.32 641.15 648.40 641.50C649.48 641.85 650.30 642.32 651.50 642.20C652.70 642.08 654.33 641.48 655.60 640.80C656.87 640.12 657.95 638.98 659.10 638.10C660.25 637.22 661.35 636.35 662.50 635.50C663.65 634.65 665.42 633.42 666.00 633.00" stroke="#111" stroke-width="1.05" fill="none" stroke-linecap="round" stroke-linejoin="round"/>
<path d="M617.80 635.70C618.97 634.90 619.98 634.23 621.00 633.60C622.02 632.97 622.73 632.32 623.90 631.90" stroke="#fff" stroke-width="1.65" fill="none"/>
<path d="M617.80 635.70C618.97 634.90 619.98 634.23 621.00 633.60C622.02 632.97 622.73 632.32 623.90 631.90" stroke="#c29ad6" stroke-width="1.15" fill="none"/>
<path d="M641.30 638.10C642.55 638.85 643.82 639.53 645.00 640.10C646.18 640.67 647.32 641.15 648.40 641.50" stroke="#fff" stroke-width="1.65" fill="none"/>
<path d="M641.30 638.10C642.55 638.85 643.82 639.53 645.00 640.10C646.18 640.67 647.32 641.15 648.40 641.50" stroke="#43bccd" stroke-width="1.15" fill="none"/>
<path d="M655.60 640.80C656.87 640.12 657.95 638.98 659.10 638.10" stroke="#fff" stroke-width="1.65" fill="none"/>
<path d="M655.60 640.80C656.87 640.12 657.95 638.98 659.10 638.10" stroke="#d5d820" stroke-width="1.15" fill="none"/>
<path d="M603.90 693.30C604.57 693.05 606.58 692.08 607.90 691.80C609.22 691.52 610.65 691.43 611.80 691.60C612.95 691.77 613.85 692.37 614.80 692.80C615.75 693.23 616.83 694.12 617.50 694.20C618.17 694.28 618.48 693.95 618.80 693.30C619.12 692.65 619.62 691.25 619.40 690.30C619.18 689.35 617.82 688.42 617.50 687.60C617.18 686.78 617.13 686.00 617.50 685.40C617.87 684.80 618.90 684.10 619.70 684.00C620.50 683.90 621.72 684.27 622.30 684.80C622.88 685.33 623.33 686.37 623.20 687.20C623.07 688.03 621.87 688.93 621.50 689.80C621.13 690.67 620.77 691.72 621.00 692.40C621.23 693.08 621.73 693.70 622.90 693.90C624.07 694.10 626.85 693.92 628.00 693.60C629.15 693.28 629.53 692.70 629.80 692.00C630.07 691.30 630.02 690.27 629.60 689.40C629.18 688.53 627.63 687.60 627.30 686.80C626.97 686.00 627.18 685.17 627.60 684.60C628.02 684.03 629.00 683.45 629.80 683.40C630.60 683.35 631.85 683.73 632.40 684.30C632.95 684.87 633.25 685.95 633.10 686.80C632.95 687.65 631.68 688.53 631.50 689.40C631.32 690.27 631.48 691.30 632.00 692.00C632.52 692.70 633.52 693.67 634.60 693.60C635.68 693.53 637.18 691.93 638.50 691.60C639.82 691.27 641.18 691.27 642.50 691.60C643.82 691.93 645.38 693.17 646.40 693.60C647.42 694.03 647.72 694.25 648.60 694.20C649.48 694.15 650.47 693.63 651.70 693.30C652.93 692.97 655.28 692.38 656.00 692.20" stroke="#111" stroke-width="1.05" fill="none" stroke-linecap="round" stroke-linejoin="round"/>
<path d="M611.80 691.60C612.95 691.77 613.85 692.37 614.80 692.80C615.75 693.23 616.83 694.12 617.50 694.20" stroke="#fff" stroke-width="1.65" fill="none"/>
<path d="M611.80 691.60C612.95 691.77 613.85 692.37 614.80 692.80C615.75 693.23 616.83 694.12 617.50 694.20" stroke="#c29ad6" stroke-width="1.15" fill="none"/>
<path d="M634.60 693.60C635.68 693.53 637.18 691.93 638.50 691.60C639.82 691.27 641.18 691.27 642.50 691.60" stroke="#fff" stroke-width="1.65" fill="none"/>
<path d="M634.60 693.60C635.68 693.53 637.18 691.93 638.50 691.60C639.82 691.27 641.18 691.27 642.50 691.60" stroke="#43bccd" stroke-width="1.15" fill="none"/>
<path d="M648.60 694.20C649.48 694.15 650.47 693.63 651.70 693.30" stroke="#fff" stroke-width="1.65" fill="none"/>
<path d="M648.60 694.20C649.48 694.15 650.47 693.63 651.70 693.30" stroke="#d5d820" stroke-width="1.15" fill="none"/>
<line x1="559.4" y1="128.5" x2="562.9" y2="122.1" stroke="#111" stroke-width="1.1"/>
<path d="M563.9 120.2L563.9 124.8L562.3 122.7L560.0 122.7Z" fill="#111"/>
<line x1="611.9" y1="109.3" x2="615.3" y2="115.3" stroke="#111" stroke-width="1.1"/>
<path d="M616.4 117.2L612.5 114.8L614.7 114.8L616.3 112.6Z" fill="#111"/>
<line x1="653.3" y1="129.7" x2="650.5" y2="124.0" stroke="#111" stroke-width="1.1"/>
<path d="M649.5 122.0L653.3 124.6L651.0 124.5L649.3 126.6Z" fill="#111"/>
</svg></body></html>
